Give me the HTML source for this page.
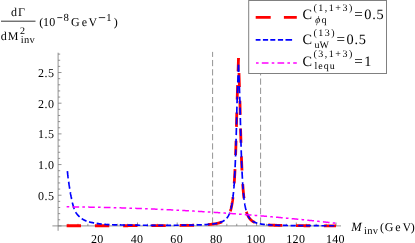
<!DOCTYPE html>
<html><head><meta charset="utf-8"><style>
html,body{margin:0;padding:0;background:#fff;overflow:hidden}
svg{display:block;will-change:transform}
text{font-family:"Liberation Serif",serif;fill:#000;text-rendering:geometricPrecision}
</style></head><body>
<svg width="415" height="243" viewBox="0 0 415 243">
<rect width="415" height="243" fill="#fff"/>
<g stroke="#777" stroke-width="0.8" fill="none">
<path d="M52.4 225.9 H341"/>
<path d="M58.1 52.7 V230.8"/>
<path d="M58.10 225.90 h3.40"/><path d="M58.10 219.77 h2.10"/><path d="M58.10 213.63 h2.10"/><path d="M58.10 207.50 h2.10"/><path d="M58.10 201.36 h2.10"/><path d="M58.10 195.22 h3.40"/><path d="M58.10 189.09 h2.10"/><path d="M58.10 182.95 h2.10"/><path d="M58.10 176.82 h2.10"/><path d="M58.10 170.69 h2.10"/><path d="M58.10 164.55 h3.40"/><path d="M58.10 158.41 h2.10"/><path d="M58.10 152.28 h2.10"/><path d="M58.10 146.14 h2.10"/><path d="M58.10 140.01 h2.10"/><path d="M58.10 133.88 h3.40"/><path d="M58.10 127.74 h2.10"/><path d="M58.10 121.60 h2.10"/><path d="M58.10 115.47 h2.10"/><path d="M58.10 109.33 h2.10"/><path d="M58.10 103.20 h3.40"/><path d="M58.10 97.06 h2.10"/><path d="M58.10 90.93 h2.10"/><path d="M58.10 84.79 h2.10"/><path d="M58.10 78.66 h2.10"/><path d="M58.10 72.53 h3.40"/><path d="M58.10 66.39 h2.10"/><path d="M58.10 60.25 h2.10"/><path d="M58.10 54.12 h2.10"/><path d="M68.03 225.90 v-2.10"/><path d="M77.95 225.90 v-2.10"/><path d="M87.88 225.90 v-2.10"/><path d="M97.80 225.90 v-3.40"/><path d="M107.72 225.90 v-2.10"/><path d="M117.65 225.90 v-2.10"/><path d="M127.58 225.90 v-2.10"/><path d="M137.50 225.90 v-3.40"/><path d="M147.43 225.90 v-2.10"/><path d="M157.35 225.90 v-2.10"/><path d="M167.28 225.90 v-2.10"/><path d="M177.20 225.90 v-3.40"/><path d="M187.12 225.90 v-2.10"/><path d="M197.05 225.90 v-2.10"/><path d="M206.97 225.90 v-2.10"/><path d="M216.90 225.90 v-3.40"/><path d="M226.82 225.90 v-2.10"/><path d="M236.75 225.90 v-2.10"/><path d="M246.68 225.90 v-2.10"/><path d="M256.60 225.90 v-3.40"/><path d="M266.53 225.90 v-2.10"/><path d="M276.45 225.90 v-2.10"/><path d="M286.38 225.90 v-2.10"/><path d="M296.30 225.90 v-3.40"/><path d="M306.23 225.90 v-2.10"/><path d="M316.15 225.90 v-2.10"/><path d="M326.08 225.90 v-2.10"/><path d="M336.00 225.90 v-3.40"/>
</g>
<g stroke="#777" stroke-width="0.8" stroke-dasharray="6.2 3.06" stroke-dashoffset="6.96" fill="none">
<path d="M212.6 225.9 V51.9"/>
<path d="M260.6 225.9 V51.9"/>
</g>
<path d="M66.64 225.77 L66.81 225.77 L66.98 225.77 L67.15 225.77 L67.32 225.77 L67.39 225.77 L67.49 225.77 L67.66 225.77 L67.83 225.77 L68.00 225.77 L68.17 225.77 L68.34 225.77 L68.51 225.77 L68.68 225.77 L68.85 225.77 L69.02 225.77 L69.19 225.77 L69.37 225.77 L69.54 225.77 L69.71 225.77 L69.88 225.77 L70.05 225.77 L70.22 225.77 L70.39 225.77 L70.56 225.77 L70.73 225.77 L70.90 225.77 L71.07 225.77 L71.24 225.77 L71.41 225.77 L71.58 225.77 L71.75 225.77 L71.92 225.77 L72.10 225.77 L72.27 225.77 L72.44 225.77 L72.61 225.77 L72.78 225.77 L72.95 225.77 L73.12 225.77 L73.29 225.77 L73.46 225.77 L73.63 225.77 L73.80 225.77 L73.97 225.77 L74.14 225.77 L74.31 225.77 L74.48 225.77 L74.65 225.77 L74.83 225.77 L75.00 225.77 L75.17 225.77 L75.34 225.77 L75.51 225.77 L75.68 225.77 L75.85 225.77 L76.02 225.77 L76.19 225.77 L76.36 225.77 L76.53 225.77 L76.70 225.77 L76.87 225.77 L77.04 225.77 L77.21 225.77 L77.38 225.77 L77.55 225.77 L77.73 225.77 L77.90 225.77 L78.07 225.77 L78.24 225.77 L78.41 225.77 L78.58 225.77 L78.75 225.77 L78.92 225.77 L79.09 225.77 L79.26 225.77 L79.43 225.77 L79.60 225.77 L79.77 225.77 L79.94 225.77 L80.11 225.77 L80.28 225.77 L80.46 225.77 L80.63 225.77 L80.80 225.77 L80.97 225.77 L81.14 225.77 L81.31 225.77 L81.48 225.77 L81.65 225.77 L81.82 225.77 L81.99 225.77 L82.16 225.77 L82.33 225.77 L82.50 225.77 L82.67 225.77 L82.84 225.77 L83.01 225.77 L83.19 225.77 L83.36 225.77 L83.53 225.77 L83.70 225.77 L83.87 225.77 L84.04 225.77 L84.21 225.77 L84.38 225.77 L84.55 225.77 L84.72 225.77 L84.89 225.77 L85.06 225.77 L85.23 225.77 L85.40 225.77 L85.57 225.77 L85.74 225.77 L85.92 225.77 L86.09 225.77 L86.26 225.77 L86.43 225.77 L86.60 225.77 L86.77 225.77 L86.94 225.77 L87.11 225.77 L87.28 225.77 L87.45 225.77 L87.62 225.77 L87.79 225.77 L87.96 225.77 L88.13 225.77 L88.30 225.77 L88.47 225.77 L88.65 225.77 L88.82 225.77 L88.99 225.77 L89.16 225.77 L89.33 225.77 L89.50 225.77 L89.67 225.77 L89.84 225.77 L90.01 225.77 L90.18 225.77 L90.35 225.77 L90.52 225.77 L90.69 225.77 L90.86 225.77 L91.03 225.77 L91.20 225.77 L91.37 225.77 L91.55 225.76 L91.72 225.76 L91.89 225.76 L92.06 225.76 L92.23 225.76 L92.40 225.76 L92.57 225.76 L92.74 225.76 L92.91 225.76 L93.08 225.76 L93.25 225.76 L93.42 225.76 L93.59 225.76 L93.76 225.76 L93.93 225.76 L94.10 225.76 L94.28 225.76 L94.45 225.76 L94.62 225.76 L94.79 225.76 L94.96 225.76 L95.13 225.76 L95.30 225.76 L95.47 225.76 L95.64 225.76 L95.81 225.76 L95.98 225.76 L96.15 225.76 L96.32 225.76 L96.49 225.76 L96.66 225.76 L96.83 225.76 L97.01 225.76 L97.18 225.76 L97.35 225.76 L97.52 225.76 L97.69 225.76 L97.86 225.76 L98.03 225.76 L98.20 225.76 L98.37 225.76 L98.54 225.76 L98.71 225.76 L98.88 225.76 L99.05 225.76 L99.22 225.76 L99.39 225.76 L99.56 225.76 L99.74 225.76 L99.91 225.76 L100.08 225.76 L100.25 225.76 L100.42 225.76 L100.59 225.76 L100.76 225.76 L100.93 225.76 L101.10 225.76 L101.27 225.76 L101.44 225.76 L101.61 225.76 L101.78 225.76 L101.95 225.76 L102.12 225.76 L102.29 225.76 L102.47 225.76 L102.64 225.76 L102.81 225.76 L102.98 225.76 L103.15 225.76 L103.32 225.76 L103.49 225.76 L103.66 225.76 L103.83 225.76 L104.00 225.76 L104.17 225.76 L104.34 225.76 L104.51 225.76 L104.68 225.76 L104.85 225.76 L105.02 225.76 L105.19 225.75 L105.37 225.75 L105.54 225.75 L105.71 225.75 L105.88 225.75 L106.05 225.75 L106.22 225.75 L106.39 225.75 L106.56 225.75 L106.73 225.75 L106.90 225.75 L107.07 225.75 L107.24 225.75 L107.41 225.75 L107.58 225.75 L107.75 225.75 L107.92 225.75 L108.10 225.75 L108.27 225.75 L108.44 225.75 L108.61 225.75 L108.78 225.75 L108.95 225.75 L109.12 225.75 L109.29 225.75 L109.46 225.75 L109.63 225.75 L109.80 225.75 L109.97 225.75 L110.14 225.75 L110.31 225.75 L110.48 225.75 L110.65 225.75 L110.83 225.75 L111.00 225.75 L111.17 225.75 L111.34 225.75 L111.51 225.75 L111.68 225.75 L111.85 225.75 L112.02 225.75 L112.19 225.75 L112.36 225.75 L112.53 225.75 L112.70 225.75 L112.87 225.75 L113.04 225.75 L113.21 225.75 L113.38 225.75 L113.56 225.75 L113.73 225.75 L113.90 225.75 L114.07 225.75 L114.24 225.75 L114.41 225.75 L114.58 225.75 L114.75 225.75 L114.92 225.74 L115.09 225.74 L115.26 225.74 L115.43 225.74 L115.60 225.74 L115.77 225.74 L115.94 225.74 L116.11 225.74 L116.29 225.74 L116.46 225.74 L116.63 225.74 L116.80 225.74 L116.97 225.74 L117.14 225.74 L117.31 225.74 L117.48 225.74 L117.65 225.74 L117.65 225.74 L118.65 225.74 L119.66 225.74 L120.66 225.74 L121.66 225.74 L122.66 225.73 L123.67 225.73 L124.67 225.73 L125.67 225.73 L126.67 225.73 L127.68 225.73 L128.68 225.72 L129.68 225.72 L130.68 225.72 L131.69 225.72 L132.69 225.72 L133.69 225.71 L134.69 225.71 L135.70 225.71 L136.70 225.71 L137.70 225.71 L138.70 225.70 L139.71 225.70 L140.71 225.70 L141.71 225.70 L142.71 225.69 L143.72 225.69 L144.72 225.69 L145.72 225.68 L146.72 225.68 L147.73 225.68 L148.73 225.67 L149.73 225.67 L150.73 225.67 L151.74 225.66 L152.74 225.66 L153.74 225.66 L154.74 225.65 L155.75 225.65 L156.75 225.64 L157.75 225.64 L158.75 225.63 L159.76 225.63 L160.76 225.62 L161.76 225.62 L162.76 225.61 L163.77 225.61 L164.77 225.60 L165.77 225.60 L166.77 225.59 L167.78 225.58 L168.78 225.58 L169.78 225.57 L170.78 225.56 L171.79 225.55 L172.79 225.55 L173.79 225.54 L174.79 225.53 L175.80 225.52 L176.80 225.51 L177.80 225.50 L178.80 225.49 L179.81 225.48 L180.81 225.46 L181.81 225.45 L182.81 225.44 L183.82 225.42 L184.82 225.41 L185.82 225.39 L186.82 225.38 L187.83 225.36 L188.83 225.34 L189.83 225.32 L190.83 225.30 L191.84 225.28 L192.84 225.26 L193.84 225.23 L194.84 225.21 L195.85 225.18 L196.85 225.15 L197.85 225.12 L198.85 225.08 L199.86 225.04 L200.86 225.00 L201.86 224.96 L202.86 224.91 L203.87 224.86 L204.87 224.80 L205.87 224.74 L206.87 224.68 L207.88 224.60 L208.88 224.52 L209.88 224.44 L210.88 224.34 L211.89 224.23 L212.89 224.11 L213.89 223.97 L214.89 223.82 L215.90 223.65 L216.90 223.45 L216.90 223.45 L216.95 223.44 L217.01 223.43 L217.06 223.42 L217.12 223.40 L217.17 223.39 L217.23 223.38 L217.28 223.37 L217.34 223.36 L217.39 223.34 L217.45 223.33 L217.50 223.32 L217.56 223.31 L217.61 223.29 L217.67 223.28 L217.72 223.27 L217.77 223.26 L217.83 223.24 L217.88 223.23 L217.94 223.22 L217.99 223.20 L218.05 223.19 L218.10 223.18 L218.16 223.16 L218.21 223.15 L218.27 223.14 L218.32 223.12 L218.38 223.11 L218.43 223.09 L218.49 223.08 L218.54 223.06 L218.59 223.05 L218.65 223.04 L218.70 223.02 L218.76 223.01 L218.81 222.99 L218.87 222.98 L218.92 222.96 L218.98 222.95 L219.03 222.93 L219.09 222.92 L219.14 222.90 L219.20 222.88 L219.25 222.87 L219.30 222.85 L219.36 222.84 L219.41 222.82 L219.47 222.80 L219.52 222.79 L219.58 222.77 L219.63 222.75 L219.69 222.74 L219.74 222.72 L219.80 222.70 L219.85 222.68 L219.91 222.67 L219.96 222.65 L220.02 222.63 L220.07 222.61 L220.12 222.60 L220.18 222.58 L220.23 222.56 L220.29 222.54 L220.34 222.52 L220.40 222.50 L220.45 222.48 L220.51 222.46 L220.56 222.44 L220.62 222.42 L220.67 222.40 L220.73 222.38 L220.78 222.36 L220.84 222.34 L220.89 222.32 L220.94 222.30 L221.00 222.28 L221.05 222.26 L221.11 222.24 L221.16 222.22 L221.22 222.20 L221.27 222.17 L221.33 222.15 L221.38 222.13 L221.44 222.11 L221.49 222.09 L221.55 222.06 L221.60 222.04 L221.66 222.02 L221.71 221.99 L221.76 221.97 L221.82 221.94 L221.87 221.92 L221.93 221.90 L221.98 221.87 L222.04 221.85 L222.09 221.82 L222.15 221.80 L222.20 221.77 L222.26 221.74 L222.31 221.72 L222.37 221.69 L222.42 221.67 L222.47 221.64 L222.53 221.61 L222.58 221.58 L222.64 221.56 L222.69 221.53 L222.75 221.50 L222.80 221.47 L222.86 221.44 L222.91 221.41 L222.97 221.38 L223.02 221.35 L223.08 221.33 L223.13 221.29 L223.19 221.26 L223.24 221.23 L223.29 221.20 L223.35 221.17 L223.40 221.14 L223.46 221.11 L223.51 221.07 L223.57 221.04 L223.62 221.01 L223.68 220.97 L223.73 220.94 L223.79 220.91 L223.84 220.87 L223.90 220.84 L223.95 220.80 L224.01 220.77 L224.06 220.73 L224.11 220.69 L224.17 220.66 L224.22 220.62 L224.28 220.58 L224.33 220.54 L224.39 220.50 L224.44 220.46 L224.50 220.43 L224.55 220.39 L224.61 220.35 L224.66 220.30 L224.72 220.26 L224.77 220.22 L224.83 220.18 L224.88 220.14 L224.93 220.09 L224.99 220.05 L225.04 220.01 L225.10 219.96 L225.15 219.92 L225.21 219.87 L225.26 219.82 L225.32 219.78 L225.37 219.73 L225.43 219.68 L225.48 219.63 L225.54 219.58 L225.59 219.53 L225.64 219.48 L225.70 219.43 L225.75 219.38 L225.81 219.33 L225.86 219.28 L225.92 219.22 L225.97 219.17 L226.03 219.12 L226.08 219.06 L226.14 219.00 L226.19 218.95 L226.25 218.89 L226.30 218.83 L226.36 218.77 L226.41 218.71 L226.46 218.65 L226.52 218.59 L226.57 218.53 L226.63 218.47 L226.68 218.40 L226.74 218.34 L226.79 218.27 L226.85 218.21 L226.90 218.14 L226.96 218.07 L227.01 218.00 L227.07 217.93 L227.12 217.86 L227.18 217.79 L227.23 217.72 L227.28 217.65 L227.34 217.57 L227.39 217.50 L227.45 217.42 L227.50 217.34 L227.56 217.26 L227.61 217.18 L227.67 217.10 L227.72 217.02 L227.78 216.94 L227.83 216.85 L227.89 216.77 L227.94 216.68 L228.00 216.59 L228.05 216.50 L228.10 216.41 L228.16 216.32 L228.21 216.23 L228.27 216.13 L228.32 216.04 L228.38 215.94 L228.43 215.84 L228.49 215.74 L228.54 215.64 L228.60 215.53 L228.65 215.43 L228.71 215.32 L228.76 215.21 L228.81 215.10 L228.87 214.99 L228.92 214.88 L228.98 214.76 L229.03 214.65 L229.09 214.53 L229.14 214.41 L229.20 214.28 L229.25 214.16 L229.31 214.03 L229.36 213.90 L229.42 213.77 L229.47 213.64 L229.53 213.51 L229.58 213.37 L229.63 213.23 L229.69 213.09 L229.74 212.94 L229.80 212.80 L229.85 212.65 L229.91 212.50 L229.96 212.34 L230.02 212.18 L230.07 212.02 L230.13 211.86 L230.18 211.70 L230.24 211.53 L230.29 211.36 L230.35 211.18 L230.40 211.01 L230.45 210.83 L230.51 210.64 L230.56 210.46 L230.62 210.27 L230.67 210.07 L230.73 209.87 L230.78 209.67 L230.84 209.47 L230.89 209.26 L230.95 209.05 L231.00 208.83 L231.06 208.61 L231.11 208.38 L231.17 208.16 L231.22 207.92 L231.27 207.68 L231.33 207.44 L231.38 207.19 L231.44 206.94 L231.49 206.68 L231.55 206.42 L231.60 206.15 L231.66 205.88 L231.71 205.60 L231.77 205.32 L231.82 205.03 L231.88 204.73 L231.93 204.43 L231.99 204.12 L232.04 203.80 L232.09 203.48 L232.15 203.15 L232.20 202.82 L232.26 202.48 L232.31 202.13 L232.37 201.77 L232.42 201.40 L232.48 201.03 L232.53 200.65 L232.59 200.26 L232.64 199.86 L232.70 199.45 L232.75 199.04 L232.80 198.61 L232.86 198.17 L232.91 197.73 L232.97 197.27 L233.02 196.80 L233.08 196.33 L233.13 195.84 L233.19 195.34 L233.24 194.83 L233.30 194.30 L233.35 193.77 L233.41 193.22 L233.46 192.66 L233.52 192.08 L233.57 191.49 L233.62 190.89 L233.68 190.27 L233.73 189.63 L233.79 188.98 L233.84 188.32 L233.90 187.63 L233.95 186.93 L234.01 186.22 L234.06 185.48 L234.12 184.73 L234.17 183.95 L234.23 183.16 L234.28 182.35 L234.34 181.51 L234.39 180.66 L234.44 179.78 L234.50 178.88 L234.55 177.96 L234.61 177.01 L234.66 176.04 L234.72 175.04 L234.77 174.02 L234.83 172.97 L234.88 171.89 L234.94 170.78 L234.99 169.65 L235.05 168.49 L235.10 167.29 L235.16 166.07 L235.21 164.81 L235.26 163.52 L235.32 162.20 L235.37 160.84 L235.43 159.45 L235.48 158.02 L235.54 156.56 L235.59 155.06 L235.65 153.52 L235.70 151.95 L235.76 150.33 L235.81 148.68 L235.87 146.99 L235.92 145.26 L235.97 143.49 L236.03 141.68 L236.08 139.83 L236.14 137.94 L236.19 136.01 L236.25 134.05 L236.30 132.04 L236.36 130.00 L236.41 127.91 L236.47 125.80 L236.52 123.64 L236.58 121.46 L236.63 119.24 L236.69 117.00 L236.74 114.72 L236.79 112.43 L236.85 110.11 L236.90 107.77 L236.96 105.43 L237.01 103.07 L237.02 103.47 L237.07 101.89 L237.12 100.22 L237.18 98.55 L237.23 96.88 L237.29 95.20 L237.34 93.53 L237.40 91.86 L237.45 90.19 L237.51 88.52 L237.56 86.85 L237.61 85.18 L237.67 83.51 L237.72 81.84 L237.78 80.17 L237.83 78.49 L237.89 76.82 L237.94 75.15 L238.00 73.48 L238.05 71.81 L238.11 70.14 L238.16 68.47 L238.22 66.80 L238.27 65.13 L238.33 63.46 L238.38 61.78 L238.43 60.11 L238.49 58.44 L238.50 58.11" stroke="#f00" stroke-width="2.8" stroke-dasharray="14.33 13.94" fill="none"/>
<path d="M238.50 58.11 L238.54 59.44 L238.60 61.11 L238.65 62.79 L238.71 64.46 L238.76 66.13 L238.82 67.80 L238.87 69.47 L238.93 71.14 L238.98 72.81 L239.04 74.48 L239.09 76.15 L239.14 77.83 L239.20 79.50 L239.25 81.17 L239.31 82.84 L239.36 84.51 L239.42 86.18 L239.47 87.85 L239.53 89.52 L239.58 91.19 L239.64 92.86 L239.69 94.54 L239.75 96.21 L239.80 97.88 L239.86 99.55 L239.91 101.22 L239.96 102.89 L239.98 103.47 L240.02 105.04 L240.07 107.43 L240.13 109.81 L240.18 112.17 L240.24 114.51 L240.29 116.83 L240.35 119.13 L240.40 121.39 L240.46 123.63 L240.51 125.83 L240.57 127.99 L240.62 130.12 L240.68 132.21 L240.73 134.27 L240.78 136.28 L240.84 138.25 L240.89 140.18 L240.95 142.08 L241.00 143.93 L241.06 145.74 L241.11 147.51 L241.17 149.23 L241.22 150.92 L241.28 152.57 L241.33 154.18 L241.39 155.75 L241.44 157.28 L241.50 158.77 L241.55 160.23 L241.60 161.65 L241.66 163.03 L241.71 164.38 L241.77 165.70 L241.82 166.98 L241.88 168.22 L241.93 169.44 L241.99 170.62 L242.04 171.78 L242.10 172.90 L242.15 174.00 L242.21 175.06 L242.26 176.10 L242.31 177.11 L242.37 178.10 L242.42 179.06 L242.48 180.00 L242.53 180.91 L242.59 181.80 L242.64 182.66 L242.70 183.50 L242.75 184.33 L242.81 185.13 L242.86 185.91 L242.92 186.67 L242.97 187.41 L243.03 188.13 L243.08 188.84 L243.13 189.53 L243.19 190.20 L243.24 190.85 L243.30 191.49 L243.35 192.11 L243.41 192.72 L243.46 193.31 L243.52 193.89 L243.57 194.45 L243.63 195.00 L243.68 195.54 L243.74 196.07 L243.79 196.58 L243.85 197.08 L243.90 197.57 L243.95 198.05 L244.01 198.51 L244.06 198.97 L244.12 199.41 L244.17 199.85 L244.23 200.27 L244.28 200.69 L244.34 201.09 L244.39 201.49 L244.45 201.88 L244.50 202.26 L244.56 202.63 L244.61 202.99 L244.67 203.35 L244.72 203.70 L244.77 204.04 L244.83 204.37 L244.88 204.70 L244.94 205.02 L244.99 205.33 L245.05 205.63 L245.10 205.93 L245.16 206.23 L245.21 206.51 L245.27 206.79 L245.32 207.07 L245.38 207.34 L245.43 207.60 L245.48 207.86 L245.54 208.12 L245.59 208.37 L245.65 208.61 L245.70 208.85 L245.76 209.08 L245.81 209.31 L245.87 209.54 L245.92 209.76 L245.98 209.98 L246.03 210.19 L246.09 210.40 L246.14 210.60 L246.20 210.80 L246.25 211.00 L246.30 211.19 L246.36 211.38 L246.41 211.57 L246.47 211.75 L246.52 211.93 L246.58 212.11 L246.63 212.28 L246.69 212.45 L246.74 212.62 L246.80 212.79 L246.85 212.95 L246.91 213.11 L246.96 213.26 L247.02 213.41 L247.07 213.56 L247.12 213.71 L247.18 213.86 L247.23 214.00 L247.29 214.14 L247.34 214.28 L247.40 214.41 L247.45 214.55 L247.51 214.68 L247.56 214.81 L247.62 214.93 L247.67 215.06 L247.73 215.18 L247.78 215.30 L247.84 215.42 L247.89 215.54 L247.94 215.65 L248.00 215.77 L248.05 215.88 L248.11 215.99 L248.16 216.10 L248.22 216.20 L248.27 216.31 L248.33 216.41 L248.38 216.51 L248.44 216.61 L248.49 216.71 L248.55 216.81 L248.60 216.90 L248.66 217.00 L248.71 217.09 L248.76 217.18 L248.82 217.27 L248.87 217.36 L248.93 217.44 L248.98 217.53 L249.04 217.62 L249.09 217.70 L249.15 217.78 L249.20 217.86 L249.26 217.94 L249.31 218.02 L249.37 218.10 L249.42 218.17 L249.47 218.25 L249.53 218.32 L249.58 218.40 L249.64 218.47 L249.69 218.54 L249.75 218.61 L249.80 218.68 L249.86 218.75 L249.91 218.82 L249.97 218.88 L250.02 218.95 L250.08 219.01 L250.13 219.08 L250.19 219.14 L250.24 219.20 L250.29 219.26 L250.35 219.32 L250.40 219.38 L250.46 219.44 L250.51 219.50 L250.57 219.56 L250.62 219.61 L250.68 219.67 L250.73 219.73 L250.79 219.78 L250.84 219.83 L250.90 219.89 L250.95 219.94 L251.01 219.99 L251.06 220.04 L251.11 220.09 L251.17 220.14 L251.22 220.19 L251.28 220.24 L251.33 220.29 L251.39 220.34 L251.44 220.38 L251.50 220.43 L251.55 220.48 L251.61 220.52 L251.66 220.57 L251.72 220.61 L251.77 220.65 L251.83 220.70 L251.88 220.74 L251.93 220.78 L251.99 220.82 L252.04 220.86 L252.10 220.90 L252.15 220.94 L252.21 220.98 L252.26 221.02 L252.32 221.06 L252.37 221.10 L252.43 221.14 L252.48 221.18 L252.54 221.21 L252.59 221.25 L252.64 221.29 L252.70 221.32 L252.75 221.36 L252.81 221.39 L252.86 221.43 L252.92 221.46 L252.97 221.49 L253.03 221.53 L253.08 221.56 L253.14 221.59 L253.19 221.63 L253.25 221.66 L253.30 221.69 L253.36 221.72 L253.41 221.75 L253.46 221.78 L253.52 221.81 L253.57 221.84 L253.63 221.87 L253.68 221.90 L253.74 221.93 L253.79 221.96 L253.85 221.99 L253.90 222.02 L253.96 222.04 L254.01 222.07 L254.07 222.10 L254.12 222.13 L254.18 222.15 L254.23 222.18 L254.28 222.21 L254.34 222.23 L254.39 222.26 L254.45 222.28 L254.50 222.31 L254.56 222.33 L254.61 222.36 L254.67 222.38 L254.72 222.41 L254.78 222.43 L254.83 222.45 L254.89 222.48 L254.94 222.50 L255.00 222.52 L255.05 222.55 L255.10 222.57 L255.16 222.59 L255.21 222.61 L255.27 222.63 L255.32 222.66 L255.38 222.68 L255.43 222.70 L255.49 222.72 L255.54 222.74 L255.60 222.76 L255.65 222.78 L255.71 222.80 L255.76 222.82 L255.81 222.84 L255.87 222.86 L255.92 222.88 L255.98 222.90 L256.03 222.92 L256.09 222.94 L256.14 222.96 L256.20 222.98 L256.25 223.00 L256.31 223.01 L256.36 223.03 L256.42 223.05 L256.47 223.07 L256.53 223.09 L256.58 223.10 L256.63 223.12 L256.69 223.14 L256.74 223.15 L256.80 223.17 L256.85 223.19 L256.91 223.20 L256.96 223.22 L257.02 223.24 L257.07 223.25 L257.13 223.27 L257.18 223.29 L257.24 223.30 L257.29 223.32 L257.35 223.33 L257.40 223.35 L257.45 223.36 L257.51 223.38 L257.56 223.39 L257.62 223.41 L257.67 223.42 L257.73 223.44 L257.78 223.45 L257.84 223.47 L257.89 223.48 L257.95 223.49 L258.00 223.51 L258.06 223.52 L258.11 223.54 L258.17 223.55 L258.22 223.56 L258.27 223.58 L258.33 223.59 L258.38 223.60 L258.44 223.62 L258.49 223.63 L258.55 223.64 L258.60 223.65 L258.66 223.67 L258.71 223.68 L258.77 223.69 L258.82 223.70 L258.88 223.72 L258.93 223.73 L258.98 223.74 L259.04 223.75 L259.09 223.76 L259.15 223.78 L259.20 223.79 L259.26 223.80 L259.31 223.81 L259.37 223.82 L259.42 223.83 L259.48 223.84 L259.53 223.86 L259.59 223.87 L259.64 223.88 L259.70 223.89 L259.75 223.90 L259.80 223.91 L259.86 223.92 L259.91 223.93 L259.97 223.94 L260.02 223.95 L260.08 223.96 L260.13 223.97 L260.19 223.98 L260.24 223.99 L260.30 224.00 L260.35 224.01 L260.41 224.02 L260.46 224.03 L260.52 224.04 L260.57 224.05 L260.57 224.05 L261.33 224.18 L262.09 224.29 L262.86 224.40 L263.62 224.49 L264.38 224.58 L265.14 224.66 L265.90 224.73 L266.67 224.80 L267.43 224.86 L268.19 224.91 L268.95 224.96 L269.71 225.01 L270.47 225.06 L271.24 225.10 L272.00 225.14 L272.76 225.17 L273.52 225.21 L274.28 225.24 L275.05 225.27 L275.81 225.30 L276.57 225.32 L277.33 225.35 L278.09 225.37 L278.86 225.39 L279.62 225.41 L280.38 225.43 L281.14 225.45 L281.90 225.47 L282.67 225.48 L283.43 225.50 L284.19 225.51 L284.95 225.53 L285.71 225.54 L286.48 225.55 L287.24 225.57 L288.00 225.58 L288.76 225.59 L289.52 225.60 L290.28 225.61 L291.05 225.62 L291.81 225.63 L292.57 225.64 L293.33 225.64 L294.09 225.65 L294.86 225.66 L295.62 225.67 L296.38 225.67 L297.14 225.68 L297.90 225.69 L298.67 225.69 L299.43 225.70 L300.19 225.70 L300.95 225.71 L301.71 225.71 L302.48 225.72 L303.24 225.72 L304.00 225.73 L304.76 225.73 L305.52 225.74 L306.29 225.74 L307.05 225.75 L307.81 225.75 L308.57 225.75 L309.33 225.76 L310.09 225.76 L310.86 225.76 L311.62 225.77 L312.38 225.77 L313.14 225.77 L313.90 225.78 L314.67 225.78 L315.43 225.78 L316.19 225.79 L316.95 225.79 L317.71 225.79 L318.48 225.79 L319.24 225.80 L320.00 225.80 L320.76 225.80 L321.52 225.80 L322.29 225.80 L323.05 225.81 L323.81 225.81 L324.57 225.81 L325.33 225.81 L326.10 225.81 L326.86 225.82 L327.62 225.82 L328.38 225.82 L329.14 225.82 L329.90 225.82 L330.67 225.82 L331.43 225.82 L332.19 225.83 L332.95 225.83 L333.71 225.83 L334.48 225.83 L335.24 225.83 L336.00 225.83" stroke="#f00" stroke-width="2.8" stroke-dasharray="14.11 13.72" stroke-dashoffset="13" fill="none"/>
<path d="M67.39 171.17 L67.41 171.37 L67.43 171.57 L67.45 171.77 L67.47 171.97 L67.49 172.17 L67.51 172.37 L67.53 172.56 L67.55 172.76 L67.58 172.96 L67.60 173.16 L67.62 173.36 L67.64 173.56 L67.66 173.76 L67.68 173.96 L67.70 174.16 L67.73 174.35 L67.75 174.55 L67.77 174.75 L67.79 174.95 L67.81 175.15 L67.84 175.35 L67.86 175.55 L67.88 175.75 L67.91 175.94 L67.93 176.14 L67.95 176.34 L67.98 176.54 L68.00 176.74 L68.02 176.94 L68.05 177.14 L68.07 177.33 L68.10 177.53 L68.12 177.73 L68.14 177.93 L68.17 178.13 L68.19 178.28 M68.65 181.75 L68.68 181.94 L68.71 182.14 L68.73 182.34 L68.76 182.54 L68.79 182.74 L68.82 182.93 L68.85 183.13 L68.88 183.33 L68.91 183.53 L68.94 183.73 L68.97 183.92 L69.00 184.12 L69.03 184.32 L69.06 184.52 L69.09 184.71 L69.12 184.91 L69.16 185.11 L69.19 185.31 L69.22 185.50 L69.25 185.70 L69.28 185.90 L69.32 186.10 L69.35 186.29 L69.38 186.49 L69.41 186.69 L69.43 186.89 L69.46 187.08 L69.49 187.28 L69.52 187.48 L69.55 187.68 L69.58 187.88 L69.61 188.07 L69.63 188.27 L69.66 188.47 L69.69 188.67 L69.71 188.77 M70.27 192.22 L70.31 192.42 L70.34 192.62 L70.38 192.81 L70.41 193.01 L70.45 193.21 L70.48 193.40 L70.52 193.60 L70.56 193.80 L70.59 193.99 L70.63 194.19 L70.67 194.38 L70.71 194.58 L70.75 194.78 L70.78 194.97 L70.82 195.17 L70.86 195.37 L70.90 195.56 L70.94 195.76 L70.98 195.95 L71.02 196.15 L71.07 196.35 L71.11 196.54 L71.15 196.74 L71.19 196.93 L71.23 197.13 L71.27 197.32 L71.30 197.52 L71.34 197.72 L71.38 197.91 L71.41 198.11 L71.45 198.31 L71.49 198.50 L71.53 198.70 L71.56 198.90 L71.60 199.09 L71.61 199.14 M72.34 202.51 L72.39 202.71 L72.43 202.90 L72.48 203.10 L72.53 203.29 L72.58 203.49 L72.63 203.68 L72.68 203.87 L72.73 204.07 L72.78 204.26 L72.83 204.45 L72.88 204.65 L72.94 204.84 L72.99 205.03 L73.04 205.22 L73.10 205.42 L73.15 205.61 L73.21 205.80 L73.27 205.99 L73.32 206.18 L73.38 206.37 L73.44 206.57 L73.50 206.76 L73.57 206.95 L73.63 207.14 L73.69 207.33 L73.76 207.52 L73.82 207.70 L73.89 207.89 L73.96 208.08 L74.02 208.27 L74.09 208.46 L74.16 208.64 L74.23 208.83 L74.30 209.02 L74.34 209.11 M75.67 212.08 L75.76 212.25 L75.85 212.43 L75.95 212.61 L76.05 212.78 L76.17 212.94 L76.28 213.11 L76.39 213.27 L76.51 213.44 L76.63 213.60 L76.74 213.76 L76.87 213.92 L76.99 214.08 L77.11 214.23 L77.24 214.39 L77.36 214.54 L77.49 214.70 L77.62 214.85 L77.75 215.00 L77.88 215.15 L78.02 215.30 L78.15 215.45 L78.29 215.59 L78.43 215.74 L78.57 215.88 L78.71 216.02 L78.86 216.16 L79.00 216.30 L79.15 216.43 L79.29 216.57 L79.44 216.70 L79.56 216.80 M81.72 218.57 L81.88 218.69 L82.05 218.80 L82.21 218.91 L82.38 219.02 L82.55 219.13 L82.72 219.24 L82.89 219.34 L83.06 219.45 L83.23 219.55 L83.41 219.65 L83.58 219.75 L83.76 219.84 L83.93 219.94 L84.11 220.03 L84.29 220.12 L84.47 220.21 L84.65 220.30 L84.83 220.38 L85.01 220.47 L85.19 220.55 L85.37 220.63 L85.56 220.71 L85.74 220.79 L85.92 220.87 L86.11 220.94 L86.30 221.02 L86.48 221.09 L86.53 221.11 M89.01 221.87 L89.21 221.92 L89.40 221.97 L89.59 222.02 L89.79 222.07 L89.98 222.12 L90.18 222.17 L90.37 222.21 L90.57 222.26 L90.76 222.30 L90.96 222.34 L91.15 222.39 L91.35 222.43 L91.54 222.47 L91.74 222.51 L91.93 222.55 L92.13 222.59 L92.33 222.63 L92.52 222.67 L92.72 222.70 L92.92 222.74 L93.11 222.78 L93.31 222.81 L93.51 222.85 L93.70 222.88 L93.90 222.91 L94.10 222.95 M96.66 223.42 L96.85 223.45 L97.05 223.48 L97.25 223.52 L97.44 223.55 L97.64 223.58 L97.84 223.61 L98.04 223.64 L98.23 223.67 L98.43 223.70 L98.63 223.73 L98.83 223.76 L99.03 223.79 L99.22 223.81 L99.42 223.84 L99.62 223.87 L99.82 223.89 L100.02 223.92 L100.22 223.94 L100.42 223.97 L100.61 223.99 L100.81 224.01 L101.01 224.04 L101.21 224.06 L101.41 224.08 L101.61 224.10 L101.76 224.12 M104.29 224.36 L104.49 224.38 L104.69 224.40 L104.89 224.41 L105.09 224.43 L105.29 224.45 L105.49 224.46 L105.69 224.47 L105.89 224.48 L106.09 224.49 L106.29 224.50 L106.49 224.51 L106.69 224.52 L106.89 224.53 L107.09 224.54 L107.29 224.55 L107.49 224.56 L107.69 224.57 L107.89 224.58 L108.09 224.58 L108.29 224.59 L108.49 224.60 L108.69 224.61 L108.89 224.62 L109.09 224.63 L109.29 224.63 L109.44 224.64 M111.98 224.73 L112.18 224.74 L112.38 224.75 L112.58 224.75 L112.78 224.76 L112.98 224.77 L113.18 224.77 L113.38 224.78 L113.58 224.79 L113.78 224.79 L113.98 224.80 L114.18 224.80 L114.38 224.81 L114.58 224.82 L114.78 224.82 L114.98 224.83 L115.18 224.83 L115.38 224.84 L115.58 224.84 L115.78 224.85 L115.98 224.86 L116.18 224.86 L116.38 224.87 L116.58 224.87 L116.78 224.88 L116.98 224.88 L117.13 224.89 M119.73 224.95 L119.93 224.95 L120.13 224.96 L120.33 224.96 L120.53 224.97 L120.73 224.97 L120.93 224.98 L121.13 224.98 L121.33 224.98 L121.53 224.99 L121.73 224.99 L121.93 225.00 L122.13 225.00 L122.33 225.00 L122.53 225.01 L122.73 225.01 L122.93 225.02 L123.13 225.02 L123.33 225.02 L123.53 225.03 L123.73 225.03 L123.93 225.04 L124.13 225.04 L124.33 225.04 L124.53 225.05 L124.73 225.05 L124.88 225.05 M127.43 225.09 L127.63 225.10 L127.83 225.10 L128.03 225.10 L128.23 225.11 L128.43 225.11 L128.63 225.11 L128.83 225.11 L129.03 225.12 L129.23 225.12 L129.43 225.12 L129.63 225.13 L129.83 225.13 L130.03 225.13 L130.23 225.13 L130.43 225.14 L130.63 225.14 L130.83 225.14 L131.03 225.14 L131.23 225.15 L131.43 225.15 L131.63 225.15 L131.83 225.15 L132.03 225.16 L132.23 225.16 L132.43 225.16 L132.58 225.16 M135.13 225.19 L135.33 225.19 L135.53 225.20 L135.73 225.20 L135.93 225.20 L136.13 225.20 L136.33 225.20 L136.53 225.21 L136.73 225.21 L136.93 225.21 L137.13 225.21 L137.33 225.21 L137.53 225.22 L137.73 225.22 L137.93 225.22 L138.13 225.22 L138.33 225.22 L138.53 225.22 L138.73 225.23 L138.93 225.23 L139.13 225.23 L139.33 225.23 L139.53 225.23 L139.73 225.23 L139.93 225.23 L140.13 225.24 L140.28 225.24 M142.83 225.25 L143.03 225.25 L143.23 225.26 L143.43 225.26 L143.63 225.26 L143.83 225.26 L144.03 225.26 L144.23 225.26 L144.43 225.26 L144.63 225.26 L144.83 225.27 L145.03 225.27 L145.23 225.27 L145.43 225.27 L145.63 225.27 L145.83 225.27 L146.03 225.27 L146.23 225.27 L146.43 225.27 L146.63 225.27 L146.83 225.28 L147.03 225.28 L147.23 225.28 L147.43 225.28 L147.63 225.28 L147.83 225.28 L147.98 225.28 M150.53 225.29 L150.73 225.29 L150.93 225.29 L151.13 225.29 L151.33 225.29 L151.53 225.29 L151.73 225.29 L151.93 225.29 L152.13 225.30 L152.33 225.30 L152.53 225.30 L152.73 225.30 L152.93 225.30 L153.13 225.30 L153.33 225.30 L153.53 225.30 L153.73 225.30 L153.93 225.30 L154.13 225.30 L154.33 225.30 L154.53 225.30 L154.73 225.30 L154.93 225.30 L155.13 225.30 L155.33 225.30 L155.53 225.30 L155.68 225.30 M158.23 225.31 L158.43 225.31 L158.63 225.31 L158.83 225.31 L159.03 225.31 L159.23 225.31 L159.43 225.31 L159.63 225.31 L159.83 225.31 L160.03 225.31 L160.23 225.31 L160.43 225.31 L160.63 225.31 L160.83 225.31 L161.03 225.31 L161.23 225.31 L161.43 225.31 L161.63 225.31 L161.83 225.31 L162.03 225.31 L162.23 225.31 L162.43 225.31 L162.63 225.31 L162.83 225.31 L163.03 225.31 L163.23 225.31 L163.38 225.31 M165.93 225.30 L166.13 225.30 L166.33 225.30 L166.53 225.30 L166.73 225.30 L166.93 225.30 L167.13 225.30 L167.33 225.30 L167.53 225.30 L167.73 225.30 L167.93 225.30 L168.13 225.30 L168.33 225.30 L168.53 225.30 L168.73 225.30 L168.93 225.30 L169.13 225.30 L169.33 225.30 L169.53 225.30 L169.73 225.30 L169.93 225.29 L170.13 225.29 L170.33 225.29 L170.53 225.29 L170.73 225.29 L170.93 225.29 L171.08 225.29 M173.63 225.28 L173.83 225.28 L174.03 225.28 L174.23 225.28 L174.43 225.28 L174.63 225.27 L174.83 225.27 L175.03 225.27 L175.23 225.27 L175.43 225.27 L175.63 225.27 L175.83 225.27 L176.03 225.27 L176.23 225.27 L176.43 225.26 L176.63 225.26 L176.83 225.26 L177.03 225.26 L177.23 225.26 L177.43 225.26 L177.63 225.26 L177.83 225.26 L178.03 225.25 L178.23 225.25 L178.43 225.25 L178.63 225.25 L178.78 225.25 M181.33 225.23 L181.53 225.22 L181.73 225.22 L181.93 225.22 L182.13 225.22 L182.33 225.22 L182.53 225.21 L182.73 225.21 L182.93 225.21 L183.13 225.21 L183.33 225.21 L183.53 225.20 L183.73 225.20 L183.93 225.20 L184.13 225.20 L184.33 225.19 L184.53 225.19 L184.73 225.19 L184.93 225.19 L185.13 225.18 L185.33 225.18 L185.53 225.18 L185.73 225.18 L185.93 225.17 L186.13 225.17 L186.33 225.17 L186.48 225.17 M189.03 225.13 L189.23 225.13 L189.43 225.12 L189.63 225.12 L189.83 225.12 L190.03 225.11 L190.23 225.11 L190.43 225.10 L190.63 225.10 L190.83 225.10 L191.03 225.09 L191.23 225.09 L191.43 225.09 L191.63 225.08 L191.83 225.08 L192.03 225.07 L192.23 225.07 L192.43 225.07 L192.63 225.06 L192.83 225.06 L193.03 225.05 L193.23 225.05 L193.43 225.04 L193.63 225.04 L193.83 225.04 L194.03 225.03 L194.18 225.03 M196.73 224.96 L196.93 224.95 L197.13 224.95 L197.33 224.94 L197.53 224.94 L197.73 224.93 L197.93 224.92 L198.13 224.92 L198.33 224.91 L198.53 224.90 L198.73 224.90 L198.93 224.89 L199.13 224.88 L199.33 224.88 L199.53 224.87 L199.73 224.86 L199.92 224.86 L200.12 224.85 L200.32 224.84 L200.52 224.83 L200.72 224.83 L200.92 224.82 L201.12 224.81 L201.32 224.80 L201.52 224.79 L201.72 224.78 L201.87 224.78 M204.42 224.65 L204.62 224.64 L204.82 224.63 L205.02 224.62 L205.22 224.61 L205.42 224.60 L205.62 224.59 L205.82 224.57 L206.02 224.56 L206.22 224.55 L206.42 224.54 L206.62 224.52 L206.82 224.51 L207.02 224.50 L207.22 224.48 L207.41 224.47 L207.61 224.45 L207.81 224.44 L208.01 224.43 L208.21 224.41 L208.41 224.39 L208.61 224.38 L208.81 224.36 L209.01 224.35 L209.21 224.33 L209.41 224.31 L209.56 224.30 M212.09 224.04 L212.29 224.02 L212.49 224.00 L212.69 223.97 L212.89 223.95 L213.09 223.92 L213.29 223.90 L213.48 223.87 L213.68 223.84 L213.88 223.82 L214.08 223.79 L214.28 223.76 L214.47 223.73 L214.67 223.70 L214.87 223.67 L215.07 223.63 L215.26 223.60 L215.46 223.57 L215.66 223.53 L215.86 223.50 L216.05 223.46 L216.25 223.42 L216.44 223.39 L216.64 223.35 L216.84 223.31 L217.03 223.27 L217.23 223.23 M219.70 222.58 L219.89 222.52 L220.08 222.46 L220.27 222.40 L220.46 222.33 L220.64 222.27 L220.83 222.20 L221.02 222.13 L221.20 222.06 L221.39 221.98 L221.58 221.90 L221.76 221.83 L221.94 221.74 L222.12 221.66 L222.30 221.58 L222.48 221.49 L222.66 221.40 L222.84 221.31 L223.02 221.21 L223.19 221.12 L223.37 221.02 L223.54 220.92 L223.71 220.81 L223.88 220.70 L224.05 220.60 L224.21 220.48 L224.38 220.37 L224.54 220.25 L224.58 220.22 M226.66 218.29 L226.79 218.14 L226.92 217.98 L227.04 217.82 L227.17 217.67 L227.29 217.51 L227.40 217.34 L227.52 217.18 L227.63 217.02 L227.74 216.85 L227.85 216.68 L227.96 216.51 L228.06 216.34 L228.17 216.17 L228.27 216.00 L228.37 215.82 L228.46 215.65 L228.56 215.47 L228.65 215.30 L228.74 215.12 L228.83 214.94 L228.92 214.76 L229.00 214.58 L229.09 214.40 L229.17 214.21 L229.25 214.03 L229.33 213.85 L229.41 213.66 L229.48 213.48 L229.56 213.29 L229.63 213.11 L229.70 212.92 L229.77 212.73 L229.81 212.64 M230.82 209.40 L230.87 209.20 L230.92 209.01 L230.97 208.81 L231.02 208.62 L231.07 208.43 L231.12 208.23 L231.16 208.04 L231.21 207.84 L231.25 207.65 L231.30 207.45 L231.34 207.26 L231.38 207.06 L231.43 206.87 L231.47 206.67 L231.51 206.48 L231.55 206.28 L231.59 206.08 L231.63 205.89 L231.67 205.69 L231.71 205.50 L231.74 205.30 L231.78 205.10 L231.82 204.91 L231.86 204.71 L231.89 204.51 L231.93 204.32 L231.96 204.12 L232.00 203.92 L232.03 203.72 L232.06 203.53 L232.10 203.33 L232.13 203.13 L232.16 202.94 L232.20 202.74 L232.23 202.54 M232.73 199.08 L232.75 198.88 L232.78 198.68 L232.80 198.48 L232.83 198.28 L232.85 198.08 L232.88 197.89 L232.90 197.69 L232.93 197.49 L232.95 197.29 L232.97 197.09 L233.00 196.89 L233.02 196.69 L233.04 196.50 L233.07 196.30 L233.09 196.10 L233.11 195.90 L233.13 195.70 L233.16 195.50 L233.18 195.30 L233.20 195.10 L233.22 194.91 L233.24 194.71 L233.26 194.51 L233.28 194.31 L233.30 194.11 L233.32 193.91 L233.34 193.71 L233.36 193.51 L233.38 193.31 L233.40 193.12 L233.42 192.92 L233.44 192.72 L233.46 192.52 L233.48 192.32 L233.50 192.12 L233.51 191.97 M233.82 188.48 L233.84 188.28 L233.85 188.09 L233.87 187.89 L233.88 187.69 L233.90 187.49 L233.91 187.29 L233.93 187.09 L233.95 186.89 L233.96 186.69 L233.98 186.49 L233.99 186.29 L234.01 186.09 L234.02 185.89 L234.04 185.69 L234.05 185.49 L234.07 185.29 L234.08 185.09 L234.10 184.89 L234.11 184.70 L234.12 184.50 L234.14 184.30 L234.15 184.10 L234.17 183.90 L234.18 183.70 L234.19 183.50 L234.21 183.30 L234.22 183.10 L234.23 182.90 L234.25 182.70 L234.26 182.50 L234.28 182.30 L234.29 182.10 L234.30 181.90 L234.31 181.70 L234.33 181.50 L234.34 181.35 M234.55 177.86 L234.56 177.66 L234.58 177.46 L234.59 177.26 L234.60 177.06 L234.61 176.86 L234.62 176.66 L234.63 176.46 L234.64 176.26 L234.65 176.06 L234.67 175.86 L234.68 175.66 L234.69 175.46 L234.70 175.26 L234.71 175.06 L234.72 174.86 L234.73 174.66 L234.74 174.46 L234.75 174.27 L234.76 174.07 L234.77 173.87 L234.78 173.67 L234.79 173.47 L234.80 173.27 L234.82 173.07 L234.83 172.87 L234.84 172.67 L234.85 172.47 L234.86 172.27 L234.87 172.07 L234.88 171.87 L234.89 171.67 L234.90 171.47 L234.91 171.27 L234.92 171.07 L234.93 170.87 L234.94 170.67 M235.10 167.17 L235.11 166.97 L235.12 166.77 L235.13 166.57 L235.14 166.37 L235.14 166.17 L235.15 165.97 L235.16 165.77 L235.17 165.58 L235.18 165.38 L235.19 165.18 L235.20 164.98 L235.21 164.78 L235.21 164.58 L235.22 164.38 L235.23 164.18 L235.24 163.98 L235.25 163.78 L235.26 163.58 L235.26 163.38 L235.27 163.18 L235.28 162.98 L235.29 162.78 L235.30 162.58 L235.31 162.38 L235.31 162.18 L235.32 161.98 L235.33 161.78 L235.34 161.58 L235.35 161.38 L235.35 161.18 L235.36 160.98 L235.37 160.78 L235.38 160.58 L235.39 160.38 L235.39 160.18 L235.40 160.03 M235.54 156.48 L235.54 156.28 L235.55 156.08 L235.56 155.88 L235.56 155.68 L235.57 155.48 L235.58 155.28 L235.59 155.08 L235.59 154.88 L235.60 154.68 L235.61 154.48 L235.62 154.28 L235.62 154.08 L235.63 153.88 L235.64 153.68 L235.64 153.48 L235.65 153.28 L235.66 153.08 L235.66 152.88 L235.67 152.68 L235.68 152.48 L235.69 152.29 L235.69 152.09 L235.70 151.89 L235.71 151.69 L235.71 151.49 L235.72 151.29 L235.73 151.09 L235.73 150.89 L235.74 150.69 L235.75 150.49 L235.75 150.29 L235.76 150.09 L235.77 149.89 L235.77 149.69 L235.78 149.49 L235.79 149.34 M235.90 145.79 L235.91 145.59 L235.91 145.39 L235.92 145.19 L235.92 144.99 L235.93 144.79 L235.94 144.59 L235.94 144.39 L235.95 144.19 L235.96 143.99 L235.96 143.79 L235.97 143.59 L235.97 143.39 L235.98 143.19 L235.99 142.99 L235.99 142.79 L236.00 142.59 L236.00 142.39 L236.01 142.19 L236.02 141.99 L236.02 141.79 L236.03 141.59 L236.03 141.39 L236.04 141.19 L236.05 140.99 L236.05 140.79 L236.06 140.59 L236.06 140.39 L236.07 140.19 L236.08 139.99 L236.08 139.79 L236.09 139.59 L236.09 139.39 L236.10 139.19 L236.10 138.99 L236.11 138.79 L236.11 138.64 M236.21 135.14 L236.22 134.94 L236.23 134.74 L236.23 134.54 L236.24 134.34 L236.24 134.14 L236.25 133.94 L236.25 133.74 L236.26 133.54 L236.26 133.34 L236.27 133.14 L236.27 132.94 L236.28 132.74 L236.29 132.54 L236.29 132.34 L236.30 132.14 L236.30 131.94 L236.31 131.74 L236.31 131.54 L236.32 131.34 L236.32 131.14 L236.33 130.94 L236.33 130.74 L236.34 130.55 L236.34 130.35 L236.35 130.15 L236.36 129.95 L236.36 129.75 L236.37 129.55 L236.37 129.35 L236.38 129.15 L236.38 128.95 L236.39 128.75 L236.39 128.55 L236.40 128.35 L236.40 128.15 L236.41 127.95 M236.50 124.45 L236.50 124.25 L236.51 124.05 L236.51 123.85 L236.52 123.65 L236.52 123.45 L236.53 123.25 L236.53 123.05 L236.54 122.85 L236.54 122.65 L236.55 122.45 L236.55 122.25 L236.56 122.05 L236.56 121.85 L236.57 121.65 L236.57 121.45 L236.58 121.25 L236.58 121.05 L236.59 120.85 L236.59 120.65 L236.60 120.45 L236.60 120.25 L236.61 120.05 L236.61 119.85 L236.62 119.65 L236.62 119.45 L236.63 119.25 L236.63 119.05 L236.64 118.85 L236.64 118.65 L236.65 118.45 L236.65 118.25 L236.66 118.05 L236.66 117.85 L236.67 117.65 L236.67 117.45 L236.68 117.25 M236.76 113.75 L236.76 113.55 L236.77 113.35 L236.77 113.15 L236.78 112.95 L236.78 112.75 L236.79 112.55 L236.79 112.35 L236.80 112.15 L236.80 111.95 L236.81 111.75 L236.81 111.55 L236.82 111.35 L236.82 111.15 L236.83 110.95 L236.83 110.75 L236.84 110.55 L236.84 110.35 L236.85 110.15 L236.85 109.95 L236.85 109.75 L236.86 109.55 L236.86 109.35 L236.87 109.15 L236.87 108.95 L236.88 108.75 L236.88 108.55 L236.89 108.35 L236.89 108.15 L236.90 107.95 L236.90 107.75 L236.91 107.55 L236.91 107.35 L236.92 107.15 L236.92 106.95 L236.92 106.75 L236.93 106.60 M237.01 103.05 L237.01 103.03 L237.02 103.23 L237.02 103.25 L237.03 103.05 L237.03 102.85 L237.04 102.65 L237.05 102.45 L237.06 102.25 L237.06 102.05 L237.07 101.85 L237.08 101.65 L237.09 101.45 L237.09 101.25 L237.10 101.05 L237.11 100.85 L237.12 100.65 L237.12 100.45 L237.13 100.25 L237.14 100.05 L237.14 99.85 L237.15 99.65 L237.16 99.45 L237.17 99.25 L237.17 99.05 L237.18 98.85 L237.19 98.65 L237.20 98.45 L237.20 98.25 L237.21 98.05 L237.22 97.85 L237.22 97.65 L237.23 97.45 L237.24 97.25 L237.25 97.05 L237.25 96.85 L237.26 96.65 M237.39 93.16 L237.40 92.96 L237.40 92.76 L237.41 92.56 L237.42 92.36 L237.43 92.16 L237.43 91.96 L237.44 91.76 L237.45 91.56 L237.46 91.36 L237.46 91.16 L237.47 90.96 L237.48 90.76 L237.49 90.56 L237.49 90.36 L237.50 90.16 L237.51 89.96 L237.51 89.76 L237.52 89.56 L237.53 89.36 L237.54 89.16 L237.54 88.96 L237.55 88.76 L237.56 88.56 L237.57 88.36 L237.57 88.16 L237.58 87.96 L237.59 87.76 L237.60 87.56 L237.60 87.36 L237.61 87.16 L237.62 86.96 L237.62 86.76 L237.63 86.56 L237.64 86.36 L237.65 86.16 L237.65 85.96 M237.78 82.46 L237.79 82.26 L237.80 82.06 L237.80 81.86 L237.81 81.66 L237.82 81.46 L237.83 81.26 L237.83 81.06 L237.84 80.86 L237.85 80.66 L237.86 80.46 L237.86 80.26 L237.87 80.07 L237.88 79.87 L237.88 79.67 L237.89 79.47 L237.90 79.27 L237.91 79.07 L237.91 78.87 L237.92 78.67 L237.93 78.47 L237.94 78.27 L237.94 78.07 L237.95 77.87 L237.96 77.67 L237.97 77.47 L237.97 77.27 L237.98 77.07 L237.99 76.87 L237.99 76.67 L238.00 76.47 L238.01 76.27 L238.02 76.07 L238.02 75.87 L238.03 75.67 L238.04 75.47 L238.05 75.27 M238.17 71.77 L238.18 71.57 L238.19 71.37 L238.20 71.17 L238.20 70.97 L238.21 70.77 L238.22 70.57 L238.23 70.37 L238.23 70.17 L238.24 69.97 L238.25 69.77 L238.25 69.57 L238.26 69.37 L238.27 69.17 L238.28 68.97 L238.28 68.77 L238.29 68.57 L238.30 68.37 L238.31 68.17 L238.31 67.97 L238.32 67.77 L238.33 67.57 L238.34 67.37 L238.34 67.17 L238.35 66.97 L238.36 66.77 L238.36 66.57 L238.37 66.37 L238.38 66.17 L238.39 65.97 L238.39 65.77 L238.40 65.57 L238.41 65.37 L238.42 65.18 L238.42 64.98 L238.43 64.78 L238.44 64.63 M238.57 64.70 L238.57 64.90 L238.58 65.10 L238.59 65.30 L238.60 65.50 L238.60 65.70 L238.61 65.90 L238.62 66.10 L238.63 66.30 L238.63 66.50 L238.64 66.70 L238.65 66.90 L238.65 67.10 L238.66 67.30 L238.67 67.50 L238.68 67.70 L238.68 67.90 L238.69 68.10 L238.70 68.30 L238.71 68.50 L238.71 68.70 L238.72 68.90 L238.73 69.10 L238.74 69.30 L238.74 69.50 L238.75 69.70 L238.76 69.90 L238.76 70.10 L238.77 70.30 L238.78 70.50 L238.79 70.70 L238.79 70.90 L238.80 71.10 L238.81 71.30 L238.82 71.50 L238.82 71.70 L238.83 71.90 M238.96 75.40 L238.97 75.60 L238.97 75.80 L238.98 76.00 L238.99 76.20 L239.00 76.40 L239.00 76.60 L239.01 76.80 L239.02 77.00 L239.02 77.20 L239.03 77.40 L239.04 77.60 L239.05 77.80 L239.05 78.00 L239.06 78.20 L239.07 78.40 L239.08 78.60 L239.08 78.80 L239.09 79.00 L239.10 79.20 L239.11 79.39 L239.11 79.59 L239.12 79.79 L239.13 79.99 L239.13 80.19 L239.14 80.39 L239.15 80.59 L239.16 80.79 L239.16 80.99 L239.17 81.19 L239.18 81.39 L239.19 81.59 L239.19 81.79 L239.20 81.99 L239.21 82.19 L239.22 82.39 L239.22 82.54 M239.35 86.09 L239.36 86.29 L239.37 86.49 L239.37 86.69 L239.38 86.89 L239.39 87.09 L239.39 87.29 L239.40 87.49 L239.41 87.69 L239.42 87.89 L239.42 88.09 L239.43 88.29 L239.44 88.49 L239.45 88.69 L239.45 88.89 L239.46 89.09 L239.47 89.29 L239.48 89.49 L239.48 89.69 L239.49 89.89 L239.50 90.09 L239.50 90.29 L239.51 90.49 L239.52 90.69 L239.53 90.89 L239.53 91.09 L239.54 91.29 L239.55 91.49 L239.56 91.69 L239.56 91.89 L239.57 92.09 L239.58 92.29 L239.59 92.49 L239.59 92.69 L239.60 92.89 L239.61 93.09 L239.61 93.24 M239.74 96.78 L239.75 96.98 L239.76 97.18 L239.76 97.38 L239.77 97.58 L239.78 97.78 L239.79 97.98 L239.79 98.18 L239.80 98.38 L239.81 98.58 L239.82 98.78 L239.82 98.98 L239.83 99.18 L239.84 99.38 L239.85 99.58 L239.85 99.78 L239.86 99.98 L239.87 100.18 L239.87 100.38 L239.88 100.58 L239.89 100.78 L239.90 100.98 L239.90 101.18 L239.91 101.38 L239.92 101.58 L239.93 101.78 L239.93 101.98 L239.94 102.18 L239.95 102.38 L239.96 102.58 L239.96 102.78 L239.97 102.98 L239.98 103.18 L239.98 103.38 L239.99 103.58 L239.99 103.78 L240.00 103.93 M240.08 107.43 L240.08 107.63 L240.09 107.83 L240.09 108.03 L240.10 108.23 L240.10 108.43 L240.10 108.63 L240.11 108.83 L240.11 109.03 L240.12 109.23 L240.12 109.43 L240.13 109.63 L240.13 109.83 L240.14 110.03 L240.14 110.23 L240.15 110.43 L240.15 110.63 L240.16 110.83 L240.16 111.03 L240.16 111.23 L240.17 111.43 L240.17 111.63 L240.18 111.83 L240.18 112.03 L240.19 112.23 L240.19 112.43 L240.20 112.63 L240.20 112.83 L240.21 113.03 L240.21 113.23 L240.22 113.43 L240.22 113.63 L240.22 113.83 L240.23 114.03 L240.23 114.23 L240.24 114.43 L240.24 114.63 M240.33 118.12 L240.33 118.32 L240.34 118.52 L240.34 118.72 L240.35 118.92 L240.35 119.12 L240.36 119.32 L240.36 119.52 L240.36 119.72 L240.37 119.92 L240.37 120.12 L240.38 120.32 L240.38 120.52 L240.39 120.72 L240.39 120.92 L240.40 121.12 L240.40 121.32 L240.41 121.52 L240.41 121.72 L240.42 121.92 L240.42 122.12 L240.43 122.32 L240.43 122.52 L240.44 122.72 L240.44 122.92 L240.45 123.12 L240.45 123.32 L240.46 123.52 L240.46 123.72 L240.47 123.92 L240.47 124.12 L240.48 124.32 L240.48 124.52 L240.49 124.72 L240.49 124.92 L240.50 125.12 L240.50 125.32 M240.59 128.82 L240.60 129.02 L240.60 129.22 L240.61 129.42 L240.61 129.62 L240.62 129.82 L240.62 130.02 L240.63 130.22 L240.63 130.42 L240.64 130.62 L240.64 130.82 L240.65 131.02 L240.65 131.22 L240.66 131.42 L240.66 131.62 L240.67 131.82 L240.67 132.02 L240.68 132.22 L240.68 132.42 L240.69 132.62 L240.69 132.82 L240.70 133.02 L240.71 133.22 L240.71 133.42 L240.72 133.62 L240.72 133.82 L240.73 134.02 L240.73 134.22 L240.74 134.42 L240.74 134.62 L240.75 134.82 L240.75 135.02 L240.76 135.22 L240.76 135.42 L240.77 135.62 L240.78 135.82 L240.78 135.97 M240.88 139.52 L240.88 139.72 L240.89 139.92 L240.90 140.12 L240.90 140.32 L240.91 140.52 L240.91 140.72 L240.92 140.92 L240.92 141.12 L240.93 141.32 L240.94 141.52 L240.94 141.72 L240.95 141.92 L240.95 142.12 L240.96 142.32 L240.97 142.52 L240.97 142.72 L240.98 142.92 L240.98 143.12 L240.99 143.32 L240.99 143.52 L241.00 143.72 L241.01 143.92 L241.01 144.12 L241.02 144.32 L241.02 144.52 L241.03 144.72 L241.04 144.92 L241.04 145.12 L241.05 145.32 L241.05 145.52 L241.06 145.72 L241.07 145.91 L241.07 146.11 L241.08 146.31 L241.09 146.51 L241.09 146.66 M241.20 150.21 L241.21 150.41 L241.22 150.61 L241.22 150.81 L241.23 151.01 L241.24 151.21 L241.24 151.41 L241.25 151.61 L241.26 151.81 L241.26 152.01 L241.27 152.21 L241.28 152.41 L241.28 152.61 L241.29 152.81 L241.30 153.01 L241.30 153.21 L241.31 153.41 L241.32 153.61 L241.32 153.81 L241.33 154.01 L241.34 154.21 L241.34 154.41 L241.35 154.61 L241.36 154.81 L241.36 155.01 L241.37 155.21 L241.38 155.41 L241.39 155.61 L241.39 155.81 L241.40 156.01 L241.41 156.21 L241.41 156.41 L241.42 156.61 L241.43 156.81 L241.44 157.01 L241.44 157.21 L241.45 157.36 M241.58 160.86 L241.59 161.06 L241.59 161.26 L241.60 161.46 L241.61 161.66 L241.62 161.86 L241.63 162.06 L241.63 162.26 L241.64 162.45 L241.65 162.65 L241.66 162.85 L241.66 163.05 L241.67 163.25 L241.68 163.45 L241.69 163.65 L241.70 163.85 L241.71 164.05 L241.71 164.25 L241.72 164.45 L241.73 164.65 L241.74 164.85 L241.75 165.05 L241.75 165.25 L241.76 165.45 L241.77 165.65 L241.78 165.85 L241.79 166.05 L241.80 166.25 L241.81 166.45 L241.81 166.65 L241.82 166.85 L241.83 167.05 L241.84 167.25 L241.85 167.45 L241.86 167.65 L241.87 167.85 L241.88 168.05 M242.04 171.55 L242.05 171.75 L242.06 171.95 L242.07 172.15 L242.08 172.35 L242.08 172.55 L242.09 172.74 L242.10 172.94 L242.11 173.14 L242.12 173.34 L242.13 173.54 L242.14 173.74 L242.15 173.94 L242.16 174.14 L242.17 174.34 L242.19 174.54 L242.20 174.74 L242.21 174.94 L242.22 175.14 L242.23 175.34 L242.24 175.54 L242.25 175.74 L242.26 175.94 L242.27 176.14 L242.28 176.34 L242.29 176.54 L242.30 176.74 L242.31 176.94 L242.32 177.14 L242.33 177.34 L242.35 177.54 L242.36 177.74 L242.37 177.94 L242.38 178.14 L242.39 178.34 L242.40 178.54 L242.41 178.69 M242.62 182.23 L242.64 182.43 L242.65 182.63 L242.66 182.83 L242.67 183.03 L242.69 183.23 L242.70 183.43 L242.71 183.63 L242.73 183.83 L242.74 184.03 L242.75 184.23 L242.77 184.43 L242.78 184.62 L242.79 184.82 L242.81 185.02 L242.82 185.22 L242.84 185.42 L242.85 185.62 L242.86 185.82 L242.88 186.02 L242.89 186.22 L242.91 186.42 L242.92 186.62 L242.94 186.82 L242.95 187.02 L242.97 187.22 L242.98 187.42 L243.00 187.62 L243.01 187.82 L243.03 188.02 L243.04 188.22 L243.06 188.41 L243.07 188.61 L243.09 188.81 L243.10 189.01 L243.12 189.21 L243.13 189.36 M243.43 192.85 L243.45 193.05 L243.47 193.25 L243.49 193.45 L243.51 193.65 L243.52 193.84 L243.54 194.04 L243.56 194.24 L243.58 194.44 L243.60 194.64 L243.62 194.84 L243.64 195.04 L243.66 195.24 L243.68 195.44 L243.70 195.64 L243.72 195.83 L243.75 196.03 L243.77 196.23 L243.79 196.43 L243.81 196.63 L243.83 196.83 L243.85 197.03 L243.87 197.23 L243.90 197.43 L243.92 197.62 L243.94 197.82 L243.97 198.02 L243.99 198.22 L244.01 198.42 L244.04 198.62 L244.06 198.82 L244.08 199.01 L244.11 199.21 L244.13 199.41 L244.16 199.61 L244.18 199.81 L244.20 199.96 M244.69 203.37 L244.72 203.57 L244.75 203.77 L244.78 203.97 L244.81 204.16 L244.85 204.36 L244.88 204.56 L244.91 204.75 L244.95 204.95 L244.98 205.15 L245.02 205.35 L245.05 205.54 L245.09 205.74 L245.12 205.94 L245.16 206.13 L245.20 206.33 L245.24 206.52 L245.28 206.72 L245.31 206.92 L245.35 207.11 L245.39 207.31 L245.43 207.51 L245.48 207.70 L245.52 207.90 L245.56 208.09 L245.60 208.29 L245.65 208.48 L245.69 208.68 L245.74 208.87 L245.78 209.07 L245.83 209.26 L245.88 209.46 L245.92 209.65 L245.97 209.84 L246.02 210.04 L246.07 210.23 L246.09 210.28 M247.10 213.52 L247.17 213.71 L247.24 213.90 L247.31 214.08 L247.39 214.27 L247.46 214.46 L247.54 214.64 L247.62 214.82 L247.70 215.01 L247.78 215.19 L247.86 215.37 L247.95 215.55 L248.04 215.73 L248.13 215.91 L248.22 216.09 L248.31 216.27 L248.41 216.44 L248.50 216.62 L248.60 216.79 L248.70 216.96 L248.81 217.13 L248.91 217.30 L249.02 217.47 L249.13 217.64 L249.24 217.81 L249.35 217.97 L249.47 218.13 L249.59 218.29 L249.71 218.45 L249.84 218.61 L249.96 218.76 L250.09 218.92 L250.22 219.07 L250.25 219.11 M252.42 221.02 L252.59 221.14 L252.75 221.25 L252.92 221.35 L253.09 221.46 L253.26 221.56 L253.44 221.66 L253.61 221.76 L253.79 221.85 L253.97 221.94 L254.15 222.03 L254.33 222.12 L254.51 222.20 L254.69 222.28 L254.87 222.36 L255.06 222.44 L255.24 222.52 L255.43 222.59 L255.62 222.66 L255.80 222.73 L255.99 222.80 L256.18 222.86 L256.37 222.93 L256.56 222.99 L256.75 223.05 L256.94 223.11 L257.13 223.17 L257.28 223.21 M259.81 223.81 L260.00 223.84 L260.20 223.88 L260.40 223.92 L260.59 223.95 L260.79 223.99 L260.99 224.02 L261.19 224.05 L261.38 224.08 L261.58 224.11 L261.78 224.14 L261.98 224.17 L262.17 224.20 L262.37 224.23 L262.57 224.26 L262.77 224.28 L262.97 224.31 L263.17 224.33 L263.36 224.36 L263.56 224.38 L263.76 224.41 L263.96 224.43 L264.16 224.45 L264.36 224.48 L264.56 224.50 L264.75 224.52 L264.90 224.53 M267.49 224.76 L267.69 224.78 L267.89 224.79 L268.09 224.81 L268.29 224.82 L268.49 224.84 L268.69 224.85 L268.89 224.86 L269.09 224.88 L269.29 224.89 L269.49 224.90 L269.69 224.92 L269.89 224.93 L270.09 224.94 L270.29 224.95 L270.49 224.96 L270.69 224.97 L270.89 224.99 L271.09 225.00 L271.29 225.01 L271.49 225.02 L271.69 225.03 L271.88 225.04 L272.08 225.05 L272.28 225.06 L272.48 225.07 L272.63 225.07 M275.18 225.18 L275.38 225.19 L275.58 225.20 L275.78 225.20 L275.98 225.21 L276.18 225.22 L276.38 225.23 L276.58 225.23 L276.78 225.24 L276.98 225.25 L277.18 225.25 L277.38 225.26 L277.58 225.26 L277.78 225.27 L277.98 225.28 L278.18 225.28 L278.38 225.29 L278.58 225.29 L278.78 225.30 L278.98 225.31 L279.18 225.31 L279.38 225.32 L279.58 225.32 L279.78 225.33 L279.98 225.33 L280.18 225.34 L280.33 225.34 M282.88 225.40 L283.08 225.41 L283.28 225.41 L283.48 225.41 L283.68 225.42 L283.88 225.42 L284.08 225.43 L284.28 225.43 L284.48 225.43 L284.68 225.44 L284.88 225.44 L285.08 225.44 L285.28 225.45 L285.48 225.45 L285.68 225.46 L285.88 225.46 L286.08 225.46 L286.28 225.47 L286.48 225.47 L286.68 225.47 L286.88 225.48 L287.08 225.48 L287.28 225.48 L287.48 225.49 L287.68 225.49 L287.88 225.49 L288.03 225.49 M290.58 225.53 L290.78 225.53 L290.98 225.53 L291.18 225.54 L291.38 225.54 L291.58 225.54 L291.78 225.54 L291.98 225.55 L292.18 225.55 L292.38 225.55 L292.58 225.55 L292.78 225.56 L292.98 225.56 L293.18 225.56 L293.38 225.56 L293.58 225.57 L293.78 225.57 L293.98 225.57 L294.18 225.57 L294.38 225.57 L294.58 225.58 L294.78 225.58 L294.98 225.58 L295.18 225.58 L295.38 225.58 L295.58 225.59 L295.73 225.59 M298.28 225.61 L298.48 225.61 L298.68 225.61 L298.88 225.62 L299.08 225.62 L299.28 225.62 L299.48 225.62 L299.68 225.62 L299.88 225.62 L300.08 225.63 L300.28 225.63 L300.48 225.63 L300.68 225.63 L300.88 225.63 L301.08 225.63 L301.28 225.64 L301.48 225.64 L301.68 225.64 L301.88 225.64 L302.08 225.64 L302.28 225.64 L302.48 225.64 L302.68 225.65 L302.88 225.65 L303.08 225.65 L303.28 225.65 L303.43 225.65 M305.98 225.67 L306.18 225.67 L306.38 225.67 L306.58 225.67 L306.78 225.67 L306.98 225.67 L307.18 225.67 L307.38 225.67 L307.58 225.68 L307.78 225.68 L307.98 225.68 L308.18 225.68 L308.38 225.68 L308.58 225.68 L308.78 225.68 L308.98 225.68 L309.18 225.68 L309.38 225.69 L309.58 225.69 L309.78 225.69 L309.98 225.69 L310.18 225.69 L310.38 225.69 L310.58 225.69 L310.78 225.69 L310.98 225.69 L311.13 225.69 M313.68 225.71 L313.88 225.71 L314.08 225.71 L314.28 225.71 L314.48 225.71 L314.68 225.71 L314.88 225.71 L315.08 225.71 L315.28 225.71 L315.48 225.71 L315.68 225.71 L315.88 225.71 L316.08 225.72 L316.28 225.72 L316.48 225.72 L316.68 225.72 L316.88 225.72 L317.08 225.72 L317.28 225.72 L317.48 225.72 L317.68 225.72 L317.88 225.72 L318.08 225.72 L318.28 225.72 L318.48 225.72 L318.68 225.73 L318.83 225.73 M321.38 225.73 L321.58 225.73 L321.78 225.74 L321.98 225.74 L322.18 225.74 L322.38 225.74 L322.58 225.74 L322.78 225.74 L322.98 225.74 L323.18 225.74 L323.38 225.74 L323.58 225.74 L323.78 225.74 L323.98 225.74 L324.18 225.74 L324.38 225.74 L324.58 225.74 L324.78 225.74 L324.98 225.75 L325.18 225.75 L325.38 225.75 L325.58 225.75 L325.78 225.75 L325.98 225.75 L326.18 225.75 L326.38 225.75 L326.53 225.75 M329.08 225.76 L329.28 225.76 L329.48 225.76 L329.68 225.76 L329.88 225.76 L330.08 225.76 L330.28 225.76 L330.48 225.76 L330.68 225.76 L330.88 225.76 L331.08 225.76 L331.28 225.76 L331.48 225.76 L331.68 225.76 L331.88 225.76 L332.08 225.76 L332.28 225.76 L332.48 225.76 L332.68 225.76 L332.88 225.77 L333.08 225.77 L333.28 225.77 L333.48 225.77 L333.68 225.77 L333.88 225.77 L334.08 225.77 L334.23 225.77" stroke="#00f" stroke-width="1.7" fill="none"/>
<path d="M66.64 206.82 L66.81 206.82 L66.98 206.82 L67.15 206.82 L67.32 206.83 L67.39 206.83 L67.49 206.83 L67.66 206.83 L67.83 206.83 L68.00 206.83 L68.17 206.83 L68.34 206.84 L68.51 206.84 L68.68 206.84 L68.85 206.84 L69.02 206.84 L69.19 206.84 L69.37 206.85 L69.54 206.85 L69.71 206.85 L69.88 206.85 L70.05 206.85 L70.22 206.86 L70.39 206.86 L70.56 206.86 L70.73 206.86 L70.90 206.86 L71.07 206.86 L71.24 206.87 L71.41 206.87 L71.58 206.87 L71.75 206.87 L71.92 206.87 L72.10 206.88 L72.27 206.88 L72.44 206.88 L72.61 206.88 L72.78 206.88 L72.95 206.89 L73.12 206.89 L73.29 206.89 L73.46 206.89 L73.63 206.89 L73.80 206.90 L73.97 206.90 L74.14 206.90 L74.31 206.90 L74.48 206.90 L74.65 206.91 L74.83 206.91 L75.00 206.91 L75.17 206.91 L75.34 206.91 L75.51 206.92 L75.68 206.92 L75.85 206.92 L76.02 206.92 L76.19 206.92 L76.36 206.93 L76.53 206.93 L76.70 206.93 L76.87 206.93 L77.04 206.94 L77.21 206.94 L77.38 206.94 L77.55 206.94 L77.73 206.94 L77.90 206.95 L78.07 206.95 L78.24 206.95 L78.41 206.95 L78.58 206.96 L78.75 206.96 L78.92 206.96 L79.09 206.96 L79.26 206.97 L79.43 206.97 L79.60 206.97 L79.77 206.97 L79.94 206.98 L80.11 206.98 L80.28 206.98 L80.46 206.98 L80.63 206.99 L80.80 206.99 L80.97 206.99 L81.14 206.99 L81.31 207.00 L81.48 207.00 L81.65 207.00 L81.82 207.00 L81.99 207.01 L82.16 207.01 L82.33 207.01 L82.50 207.01 L82.67 207.02 L82.84 207.02 L83.01 207.02 L83.19 207.02 L83.36 207.03 L83.53 207.03 L83.70 207.03 L83.87 207.03 L84.04 207.04 L84.21 207.04 L84.38 207.04 L84.55 207.05 L84.72 207.05 L84.89 207.05 L85.06 207.05 L85.23 207.06 L85.40 207.06 L85.57 207.06 L85.74 207.06 L85.92 207.07 L86.09 207.07 L86.26 207.07 L86.43 207.08 L86.60 207.08 L86.77 207.08 L86.94 207.08 L87.11 207.09 L87.28 207.09 L87.45 207.09 L87.62 207.10 L87.79 207.10 L87.96 207.10 L88.13 207.11 L88.30 207.11 L88.47 207.11 L88.65 207.11 L88.82 207.12 L88.99 207.12 L89.16 207.12 L89.33 207.13 L89.50 207.13 L89.67 207.13 L89.84 207.14 L90.01 207.14 L90.18 207.14 L90.35 207.14 L90.52 207.15 L90.69 207.15 L90.86 207.15 L91.03 207.16 L91.20 207.16 L91.37 207.16 L91.55 207.17 L91.72 207.17 L91.89 207.17 L92.06 207.18 L92.23 207.18 L92.40 207.18 L92.57 207.19 L92.74 207.19 L92.91 207.19 L93.08 207.20 L93.25 207.20 L93.42 207.20 L93.59 207.21 L93.76 207.21 L93.93 207.21 L94.10 207.22 L94.28 207.22 L94.45 207.22 L94.62 207.23 L94.79 207.23 L94.96 207.23 L95.13 207.24 L95.30 207.24 L95.47 207.24 L95.64 207.25 L95.81 207.25 L95.98 207.25 L96.15 207.26 L96.32 207.26 L96.49 207.26 L96.66 207.27 L96.83 207.27 L97.01 207.27 L97.18 207.28 L97.35 207.28 L97.52 207.29 L97.69 207.29 L97.86 207.29 L98.03 207.30 L98.20 207.30 L98.37 207.30 L98.54 207.31 L98.71 207.31 L98.88 207.31 L99.05 207.32 L99.22 207.32 L99.39 207.33 L99.56 207.33 L99.74 207.33 L99.91 207.34 L100.08 207.34 L100.25 207.34 L100.42 207.35 L100.59 207.35 L100.76 207.36 L100.93 207.36 L101.10 207.36 L101.27 207.37 L101.44 207.37 L101.61 207.37 L101.78 207.38 L101.95 207.38 L102.12 207.39 L102.29 207.39 L102.47 207.39 L102.64 207.40 L102.81 207.40 L102.98 207.41 L103.15 207.41 L103.32 207.41 L103.49 207.42 L103.66 207.42 L103.83 207.43 L104.00 207.43 L104.17 207.43 L104.34 207.44 L104.51 207.44 L104.68 207.45 L104.85 207.45 L105.02 207.45 L105.19 207.46 L105.37 207.46 L105.54 207.47 L105.71 207.47 L105.88 207.47 L106.05 207.48 L106.22 207.48 L106.39 207.49 L106.56 207.49 L106.73 207.50 L106.90 207.50 L107.07 207.50 L107.24 207.51 L107.41 207.51 L107.58 207.52 L107.75 207.52 L107.92 207.52 L108.10 207.53 L108.27 207.53 L108.44 207.54 L108.61 207.54 L108.78 207.55 L108.95 207.55 L109.12 207.56 L109.29 207.56 L109.46 207.56 L109.63 207.57 L109.80 207.57 L109.97 207.58 L110.14 207.58 L110.31 207.59 L110.48 207.59 L110.65 207.59 L110.83 207.60 L111.00 207.60 L111.17 207.61 L111.34 207.61 L111.51 207.62 L111.68 207.62 L111.85 207.63 L112.02 207.63 L112.19 207.64 L112.36 207.64 L112.53 207.64 L112.70 207.65 L112.87 207.65 L113.04 207.66 L113.21 207.66 L113.38 207.67 L113.56 207.67 L113.73 207.68 L113.90 207.68 L114.07 207.69 L114.24 207.69 L114.41 207.70 L114.58 207.70 L114.75 207.70 L114.92 207.71 L115.09 207.71 L115.26 207.72 L115.43 207.72 L115.60 207.73 L115.77 207.73 L115.94 207.74 L116.11 207.74 L116.29 207.75 L116.46 207.75 L116.63 207.76 L116.80 207.76 L116.97 207.77 L117.14 207.77 L117.31 207.78 L117.48 207.78 L117.65 207.79 L117.65 207.79 L118.65 207.82 L119.66 207.85 L120.66 207.87 L121.66 207.91 L122.66 207.94 L123.67 207.97 L124.67 208.00 L125.67 208.03 L126.67 208.06 L127.68 208.09 L128.68 208.13 L129.68 208.16 L130.68 208.19 L131.69 208.23 L132.69 208.26 L133.69 208.30 L134.69 208.33 L135.70 208.37 L136.70 208.40 L137.70 208.44 L138.70 208.48 L139.71 208.52 L140.71 208.55 L141.71 208.59 L142.71 208.63 L143.72 208.67 L144.72 208.71 L145.72 208.75 L146.72 208.79 L147.73 208.83 L148.73 208.87 L149.73 208.91 L150.73 208.95 L151.74 208.99 L152.74 209.03 L153.74 209.08 L154.74 209.12 L155.75 209.16 L156.75 209.21 L157.75 209.25 L158.75 209.30 L159.76 209.34 L160.76 209.39 L161.76 209.43 L162.76 209.48 L163.77 209.52 L164.77 209.57 L165.77 209.62 L166.77 209.67 L167.78 209.71 L168.78 209.76 L169.78 209.81 L170.78 209.86 L171.79 209.91 L172.79 209.96 L173.79 210.01 L174.79 210.06 L175.80 210.11 L176.80 210.16 L177.80 210.22 L178.80 210.27 L179.81 210.32 L180.81 210.37 L181.81 210.43 L182.81 210.48 L183.82 210.53 L184.82 210.59 L185.82 210.64 L186.82 210.70 L187.83 210.76 L188.83 210.81 L189.83 210.87 L190.83 210.93 L191.84 210.98 L192.84 211.04 L193.84 211.10 L194.84 211.16 L195.85 211.22 L196.85 211.28 L197.85 211.33 L198.85 211.39 L199.86 211.46 L200.86 211.52 L201.86 211.58 L202.86 211.64 L203.87 211.70 L204.87 211.76 L205.87 211.83 L206.87 211.89 L207.88 211.95 L208.88 212.02 L209.88 212.08 L210.88 212.15 L211.89 212.21 L212.89 212.28 L213.89 212.34 L214.89 212.41 L215.90 212.48 L216.90 212.54 L216.90 212.54 L216.95 212.55 L217.01 212.55 L217.06 212.55 L217.12 212.56 L217.17 212.56 L217.23 212.56 L217.28 212.57 L217.34 212.57 L217.39 212.58 L217.45 212.58 L217.50 212.58 L217.56 212.59 L217.61 212.59 L217.67 212.59 L217.72 212.60 L217.77 212.60 L217.83 212.60 L217.88 212.61 L217.94 212.61 L217.99 212.62 L218.05 212.62 L218.10 212.62 L218.16 212.63 L218.21 212.63 L218.27 212.63 L218.32 212.64 L218.38 212.64 L218.43 212.65 L218.49 212.65 L218.54 212.65 L218.59 212.66 L218.65 212.66 L218.70 212.66 L218.76 212.67 L218.81 212.67 L218.87 212.67 L218.92 212.68 L218.98 212.68 L219.03 212.69 L219.09 212.69 L219.14 212.69 L219.20 212.70 L219.25 212.70 L219.30 212.70 L219.36 212.71 L219.41 212.71 L219.47 212.72 L219.52 212.72 L219.58 212.72 L219.63 212.73 L219.69 212.73 L219.74 212.73 L219.80 212.74 L219.85 212.74 L219.91 212.75 L219.96 212.75 L220.02 212.75 L220.07 212.76 L220.12 212.76 L220.18 212.76 L220.23 212.77 L220.29 212.77 L220.34 212.78 L220.40 212.78 L220.45 212.78 L220.51 212.79 L220.56 212.79 L220.62 212.79 L220.67 212.80 L220.73 212.80 L220.78 212.81 L220.84 212.81 L220.89 212.81 L220.94 212.82 L221.00 212.82 L221.05 212.82 L221.11 212.83 L221.16 212.83 L221.22 212.84 L221.27 212.84 L221.33 212.84 L221.38 212.85 L221.44 212.85 L221.49 212.85 L221.55 212.86 L221.60 212.86 L221.66 212.87 L221.71 212.87 L221.76 212.87 L221.82 212.88 L221.87 212.88 L221.93 212.88 L221.98 212.89 L222.04 212.89 L222.09 212.90 L222.15 212.90 L222.20 212.90 L222.26 212.91 L222.31 212.91 L222.37 212.91 L222.42 212.92 L222.47 212.92 L222.53 212.93 L222.58 212.93 L222.64 212.93 L222.69 212.94 L222.75 212.94 L222.80 212.94 L222.86 212.95 L222.91 212.95 L222.97 212.96 L223.02 212.96 L223.08 212.96 L223.13 212.97 L223.19 212.97 L223.24 212.97 L223.29 212.98 L223.35 212.98 L223.40 212.99 L223.46 212.99 L223.51 212.99 L223.57 213.00 L223.62 213.00 L223.68 213.01 L223.73 213.01 L223.79 213.01 L223.84 213.02 L223.90 213.02 L223.95 213.02 L224.01 213.03 L224.06 213.03 L224.11 213.04 L224.17 213.04 L224.22 213.04 L224.28 213.05 L224.33 213.05 L224.39 213.05 L224.44 213.06 L224.50 213.06 L224.55 213.07 L224.61 213.07 L224.66 213.07 L224.72 213.08 L224.77 213.08 L224.83 213.09 L224.88 213.09 L224.93 213.09 L224.99 213.10 L225.04 213.10 L225.10 213.10 L225.15 213.11 L225.21 213.11 L225.26 213.12 L225.32 213.12 L225.37 213.12 L225.43 213.13 L225.48 213.13 L225.54 213.14 L225.59 213.14 L225.64 213.14 L225.70 213.15 L225.75 213.15 L225.81 213.15 L225.86 213.16 L225.92 213.16 L225.97 213.17 L226.03 213.17 L226.08 213.17 L226.14 213.18 L226.19 213.18 L226.25 213.19 L226.30 213.19 L226.36 213.19 L226.41 213.20 L226.46 213.20 L226.52 213.20 L226.57 213.21 L226.63 213.21 L226.68 213.22 L226.74 213.22 L226.79 213.22 L226.85 213.23 L226.90 213.23 L226.96 213.24 L227.01 213.24 L227.07 213.24 L227.12 213.25 L227.18 213.25 L227.23 213.26 L227.28 213.26 L227.34 213.26 L227.39 213.27 L227.45 213.27 L227.50 213.27 L227.56 213.28 L227.61 213.28 L227.67 213.29 L227.72 213.29 L227.78 213.29 L227.83 213.30 L227.89 213.30 L227.94 213.31 L228.00 213.31 L228.05 213.31 L228.10 213.32 L228.16 213.32 L228.21 213.33 L228.27 213.33 L228.32 213.33 L228.38 213.34 L228.43 213.34 L228.49 213.34 L228.54 213.35 L228.60 213.35 L228.65 213.36 L228.71 213.36 L228.76 213.36 L228.81 213.37 L228.87 213.37 L228.92 213.38 L228.98 213.38 L229.03 213.38 L229.09 213.39 L229.14 213.39 L229.20 213.40 L229.25 213.40 L229.31 213.40 L229.36 213.41 L229.42 213.41 L229.47 213.42 L229.53 213.42 L229.58 213.42 L229.63 213.43 L229.69 213.43 L229.74 213.44 L229.80 213.44 L229.85 213.44 L229.91 213.45 L229.96 213.45 L230.02 213.45 L230.07 213.46 L230.13 213.46 L230.18 213.47 L230.24 213.47 L230.29 213.47 L230.35 213.48 L230.40 213.48 L230.45 213.49 L230.51 213.49 L230.56 213.49 L230.62 213.50 L230.67 213.50 L230.73 213.51 L230.78 213.51 L230.84 213.51 L230.89 213.52 L230.95 213.52 L231.00 213.53 L231.06 213.53 L231.11 213.53 L231.17 213.54 L231.22 213.54 L231.27 213.55 L231.33 213.55 L231.38 213.55 L231.44 213.56 L231.49 213.56 L231.55 213.57 L231.60 213.57 L231.66 213.57 L231.71 213.58 L231.77 213.58 L231.82 213.59 L231.88 213.59 L231.93 213.59 L231.99 213.60 L232.04 213.60 L232.09 213.61 L232.15 213.61 L232.20 213.61 L232.26 213.62 L232.31 213.62 L232.37 213.63 L232.42 213.63 L232.48 213.63 L232.53 213.64 L232.59 213.64 L232.64 213.65 L232.70 213.65 L232.75 213.65 L232.80 213.66 L232.86 213.66 L232.91 213.67 L232.97 213.67 L233.02 213.67 L233.08 213.68 L233.13 213.68 L233.19 213.69 L233.24 213.69 L233.30 213.69 L233.35 213.70 L233.41 213.70 L233.46 213.71 L233.52 213.71 L233.57 213.71 L233.62 213.72 L233.68 213.72 L233.73 213.73 L233.79 213.73 L233.84 213.73 L233.90 213.74 L233.95 213.74 L234.01 213.75 L234.06 213.75 L234.12 213.75 L234.17 213.76 L234.23 213.76 L234.28 213.77 L234.34 213.77 L234.39 213.77 L234.44 213.78 L234.50 213.78 L234.55 213.79 L234.61 213.79 L234.66 213.79 L234.72 213.80 L234.77 213.80 L234.83 213.81 L234.88 213.81 L234.94 213.81 L234.99 213.82 L235.05 213.82 L235.10 213.83 L235.16 213.83 L235.21 213.83 L235.26 213.84 L235.32 213.84 L235.37 213.85 L235.43 213.85 L235.48 213.85 L235.54 213.86 L235.59 213.86 L235.65 213.87 L235.70 213.87 L235.76 213.87 L235.81 213.88 L235.87 213.88 L235.92 213.89 L235.97 213.89 L236.03 213.90 L236.08 213.90 L236.14 213.90 L236.19 213.91 L236.25 213.91 L236.30 213.92 L236.36 213.92 L236.41 213.92 L236.47 213.93 L236.52 213.93 L236.58 213.94 L236.63 213.94 L236.69 213.94 L236.74 213.95 L236.79 213.95 L236.85 213.96 L236.90 213.96 L236.96 213.96 L237.01 213.97 L237.02 213.97 L237.07 213.97 L237.12 213.98 L237.18 213.98 L237.23 213.98 L237.29 213.99 L237.34 213.99 L237.40 214.00 L237.45 214.00 L237.51 214.01 L237.56 214.01 L237.61 214.01 L237.67 214.02 L237.72 214.02 L237.78 214.03 L237.83 214.03 L237.89 214.03 L237.94 214.04 L238.00 214.04 L238.05 214.05 L238.11 214.05 L238.16 214.05 L238.22 214.06 L238.27 214.06 L238.33 214.07 L238.38 214.07 L238.43 214.08 L238.49 214.08 L238.50 214.08 L238.54 214.08 L238.60 214.09 L238.65 214.09 L238.71 214.10 L238.76 214.10 L238.82 214.10 L238.87 214.11 L238.93 214.11 L238.98 214.12 L239.04 214.12 L239.09 214.12 L239.14 214.13 L239.20 214.13 L239.25 214.14 L239.31 214.14 L239.36 214.15 L239.42 214.15 L239.47 214.15 L239.53 214.16 L239.58 214.16 L239.64 214.17 L239.69 214.17 L239.75 214.17 L239.80 214.18 L239.86 214.18 L239.91 214.19 L239.96 214.19 L239.98 214.19 L240.02 214.20 L240.07 214.20 L240.13 214.20 L240.18 214.21 L240.24 214.21 L240.29 214.22 L240.35 214.22 L240.40 214.22 L240.46 214.23 L240.51 214.23 L240.57 214.24 L240.62 214.24 L240.68 214.25 L240.73 214.25 L240.78 214.25 L240.84 214.26 L240.89 214.26 L240.95 214.27 L241.00 214.27 L241.06 214.27 L241.11 214.28 L241.17 214.28 L241.22 214.29 L241.28 214.29 L241.33 214.30 L241.39 214.30 L241.44 214.30 L241.50 214.31 L241.55 214.31 L241.60 214.32 L241.66 214.32 L241.71 214.32 L241.77 214.33 L241.82 214.33 L241.88 214.34 L241.93 214.34 L241.99 214.35 L242.04 214.35 L242.10 214.35 L242.15 214.36 L242.21 214.36 L242.26 214.37 L242.31 214.37 L242.37 214.37 L242.42 214.38 L242.48 214.38 L242.53 214.39 L242.59 214.39 L242.64 214.40 L242.70 214.40 L242.75 214.40 L242.81 214.41 L242.86 214.41 L242.92 214.42 L242.97 214.42 L243.03 214.43 L243.08 214.43 L243.13 214.43 L243.19 214.44 L243.24 214.44 L243.30 214.45 L243.35 214.45 L243.41 214.45 L243.46 214.46 L243.52 214.46 L243.57 214.47 L243.63 214.47 L243.68 214.48 L243.74 214.48 L243.79 214.48 L243.85 214.49 L243.90 214.49 L243.95 214.50 L244.01 214.50 L244.06 214.51 L244.12 214.51 L244.17 214.51 L244.23 214.52 L244.28 214.52 L244.34 214.53 L244.39 214.53 L244.45 214.54 L244.50 214.54 L244.56 214.54 L244.61 214.55 L244.67 214.55 L244.72 214.56 L244.77 214.56 L244.83 214.56 L244.88 214.57 L244.94 214.57 L244.99 214.58 L245.05 214.58 L245.10 214.59 L245.16 214.59 L245.21 214.59 L245.27 214.60 L245.32 214.60 L245.38 214.61 L245.43 214.61 L245.48 214.62 L245.54 214.62 L245.59 214.62 L245.65 214.63 L245.70 214.63 L245.76 214.64 L245.81 214.64 L245.87 214.65 L245.92 214.65 L245.98 214.65 L246.03 214.66 L246.09 214.66 L246.14 214.67 L246.20 214.67 L246.25 214.68 L246.30 214.68 L246.36 214.68 L246.41 214.69 L246.47 214.69 L246.52 214.70 L246.58 214.70 L246.63 214.71 L246.69 214.71 L246.74 214.71 L246.80 214.72 L246.85 214.72 L246.91 214.73 L246.96 214.73 L247.02 214.74 L247.07 214.74 L247.12 214.74 L247.18 214.75 L247.23 214.75 L247.29 214.76 L247.34 214.76 L247.40 214.77 L247.45 214.77 L247.51 214.77 L247.56 214.78 L247.62 214.78 L247.67 214.79 L247.73 214.79 L247.78 214.80 L247.84 214.80 L247.89 214.80 L247.94 214.81 L248.00 214.81 L248.05 214.82 L248.11 214.82 L248.16 214.83 L248.22 214.83 L248.27 214.84 L248.33 214.84 L248.38 214.84 L248.44 214.85 L248.49 214.85 L248.55 214.86 L248.60 214.86 L248.66 214.87 L248.71 214.87 L248.76 214.87 L248.82 214.88 L248.87 214.88 L248.93 214.89 L248.98 214.89 L249.04 214.90 L249.09 214.90 L249.15 214.90 L249.20 214.91 L249.26 214.91 L249.31 214.92 L249.37 214.92 L249.42 214.93 L249.47 214.93 L249.53 214.94 L249.58 214.94 L249.64 214.94 L249.69 214.95 L249.75 214.95 L249.80 214.96 L249.86 214.96 L249.91 214.97 L249.97 214.97 L250.02 214.97 L250.08 214.98 L250.13 214.98 L250.19 214.99 L250.24 214.99 L250.29 215.00 L250.35 215.00 L250.40 215.00 L250.46 215.01 L250.51 215.01 L250.57 215.02 L250.62 215.02 L250.68 215.03 L250.73 215.03 L250.79 215.04 L250.84 215.04 L250.90 215.04 L250.95 215.05 L251.01 215.05 L251.06 215.06 L251.11 215.06 L251.17 215.07 L251.22 215.07 L251.28 215.07 L251.33 215.08 L251.39 215.08 L251.44 215.09 L251.50 215.09 L251.55 215.10 L251.61 215.10 L251.66 215.11 L251.72 215.11 L251.77 215.11 L251.83 215.12 L251.88 215.12 L251.93 215.13 L251.99 215.13 L252.04 215.14 L252.10 215.14 L252.15 215.15 L252.21 215.15 L252.26 215.15 L252.32 215.16 L252.37 215.16 L252.43 215.17 L252.48 215.17 L252.54 215.18 L252.59 215.18 L252.64 215.18 L252.70 215.19 L252.75 215.19 L252.81 215.20 L252.86 215.20 L252.92 215.21 L252.97 215.21 L253.03 215.22 L253.08 215.22 L253.14 215.22 L253.19 215.23 L253.25 215.23 L253.30 215.24 L253.36 215.24 L253.41 215.25 L253.46 215.25 L253.52 215.26 L253.57 215.26 L253.63 215.26 L253.68 215.27 L253.74 215.27 L253.79 215.28 L253.85 215.28 L253.90 215.29 L253.96 215.29 L254.01 215.30 L254.07 215.30 L254.12 215.30 L254.18 215.31 L254.23 215.31 L254.28 215.32 L254.34 215.32 L254.39 215.33 L254.45 215.33 L254.50 215.34 L254.56 215.34 L254.61 215.34 L254.67 215.35 L254.72 215.35 L254.78 215.36 L254.83 215.36 L254.89 215.37 L254.94 215.37 L255.00 215.38 L255.05 215.38 L255.10 215.38 L255.16 215.39 L255.21 215.39 L255.27 215.40 L255.32 215.40 L255.38 215.41 L255.43 215.41 L255.49 215.42 L255.54 215.42 L255.60 215.43 L255.65 215.43 L255.71 215.43 L255.76 215.44 L255.81 215.44 L255.87 215.45 L255.92 215.45 L255.98 215.46 L256.03 215.46 L256.09 215.47 L256.14 215.47 L256.20 215.47 L256.25 215.48 L256.31 215.48 L256.36 215.49 L256.42 215.49 L256.47 215.50 L256.53 215.50 L256.58 215.51 L256.63 215.51 L256.69 215.52 L256.74 215.52 L256.80 215.52 L256.85 215.53 L256.91 215.53 L256.96 215.54 L257.02 215.54 L257.07 215.55 L257.13 215.55 L257.18 215.56 L257.24 215.56 L257.29 215.56 L257.35 215.57 L257.40 215.57 L257.45 215.58 L257.51 215.58 L257.56 215.59 L257.62 215.59 L257.67 215.60 L257.73 215.60 L257.78 215.61 L257.84 215.61 L257.89 215.61 L257.95 215.62 L258.00 215.62 L258.06 215.63 L258.11 215.63 L258.17 215.64 L258.22 215.64 L258.27 215.65 L258.33 215.65 L258.38 215.66 L258.44 215.66 L258.49 215.66 L258.55 215.67 L258.60 215.67 L258.66 215.68 L258.71 215.68 L258.77 215.69 L258.82 215.69 L258.88 215.70 L258.93 215.70 L258.98 215.71 L259.04 215.71 L259.09 215.71 L259.15 215.72 L259.20 215.72 L259.26 215.73 L259.31 215.73 L259.37 215.74 L259.42 215.74 L259.48 215.75 L259.53 215.75 L259.59 215.76 L259.64 215.76 L259.70 215.76 L259.75 215.77 L259.80 215.77 L259.86 215.78 L259.91 215.78 L259.97 215.79 L260.02 215.79 L260.08 215.80 L260.13 215.80 L260.19 215.81 L260.24 215.81 L260.30 215.81 L260.35 215.82 L260.41 215.82 L260.46 215.83 L260.52 215.83 L260.57 215.84 L260.57 215.84 L261.33 215.90 L262.09 215.97 L262.86 216.03 L263.62 216.10 L264.38 216.16 L265.14 216.23 L265.90 216.29 L266.67 216.36 L267.43 216.42 L268.19 216.49 L268.95 216.55 L269.71 216.62 L270.47 216.69 L271.24 216.75 L272.00 216.82 L272.76 216.89 L273.52 216.96 L274.28 217.02 L275.05 217.09 L275.81 217.16 L276.57 217.23 L277.33 217.30 L278.09 217.37 L278.86 217.44 L279.62 217.51 L280.38 217.58 L281.14 217.64 L281.90 217.71 L282.67 217.79 L283.43 217.86 L284.19 217.93 L284.95 218.00 L285.71 218.07 L286.48 218.14 L287.24 218.21 L288.00 218.28 L288.76 218.36 L289.52 218.43 L290.28 218.50 L291.05 218.57 L291.81 218.65 L292.57 218.72 L293.33 218.79 L294.09 218.87 L294.86 218.94 L295.62 219.01 L296.38 219.09 L297.14 219.16 L297.90 219.24 L298.67 219.31 L299.43 219.39 L300.19 219.46 L300.95 219.54 L301.71 219.62 L302.48 219.69 L303.24 219.77 L304.00 219.84 L304.76 219.92 L305.52 220.00 L306.29 220.08 L307.05 220.15 L307.81 220.23 L308.57 220.31 L309.33 220.39 L310.09 220.46 L310.86 220.54 L311.62 220.62 L312.38 220.70 L313.14 220.78 L313.90 220.86 L314.67 220.94 L315.43 221.02 L316.19 221.10 L316.95 221.18 L317.71 221.26 L318.48 221.34 L319.24 221.42 L320.00 221.50 L320.76 221.59 L321.52 221.67 L322.29 221.75 L323.05 221.83 L323.81 221.91 L324.57 222.00 L325.33 222.08 L326.10 222.16 L326.86 222.25 L327.62 222.33 L328.38 222.41 L329.14 222.50 L329.90 222.58 L330.67 222.66 L331.43 222.75 L332.19 222.83 L332.95 222.92 L333.71 223.00 L334.48 223.09 L335.24 223.18 L336.00 223.26" stroke="#f0f" stroke-width="1.5" stroke-dasharray="2.6 3.2 6.7 3.2" fill="none"/>
<g><text x="38.00" y="199.53" font-size="12.00" letter-spacing="0.50" >0.5</text><text x="38.00" y="168.85" font-size="12.00" letter-spacing="0.50" >1.0</text><text x="38.00" y="138.18" font-size="12.00" letter-spacing="0.50" >1.5</text><text x="38.00" y="107.50" font-size="12.00" letter-spacing="0.50" >2.0</text><text x="38.00" y="76.83" font-size="12.00" letter-spacing="0.50" >2.5</text><text x="90.95" y="242.70" font-size="12.00" letter-spacing="0.30" >20</text><text x="130.65" y="242.70" font-size="12.00" letter-spacing="0.30" >40</text><text x="170.35" y="242.70" font-size="12.00" letter-spacing="0.30" >60</text><text x="210.05" y="242.70" font-size="12.00" letter-spacing="0.30" >80</text><text x="246.60" y="242.70" font-size="12.00" letter-spacing="0.30" >100</text><text x="286.30" y="242.70" font-size="12.00" letter-spacing="0.30" >120</text><text x="326.00" y="242.70" font-size="12.00" letter-spacing="0.30" >140</text></g>
<g><text x="11.00" y="15.70" font-size="12.00" letter-spacing="1.00" >dΓ</text><text x="0.80" y="39.50" font-size="12.00" letter-spacing="1.00" >dM</text><text x="20.10" y="33.90" font-size="10.00" letter-spacing="0.00" >2</text><text x="20.80" y="43.20" font-size="10.50" letter-spacing="0.25" >inv</text><text x="39.30" y="25.70" font-size="12.00" letter-spacing="0.00" >(</text><text x="43.00" y="25.70" font-size="12.00" letter-spacing="0.30" >10</text><text x="63.50" y="20.80" font-size="10.80" letter-spacing="0.00" >8</text><text x="71.00" y="25.70" font-size="12.00" letter-spacing="0.00" >G</text><text x="81.70" y="25.70" font-size="12.00" letter-spacing="0.00" >e</text><text x="88.60" y="25.70" font-size="12.00" letter-spacing="0.00" >V</text><text x="106.30" y="20.80" font-size="10.50" letter-spacing="0.00" >1</text><text x="113.80" y="25.70" font-size="12.00" letter-spacing="0.00" >)</text><path d="M1 21.2 H35.5 M57.3 17.6 H62.3 M98.8 17.6 H105.2" stroke="#000" stroke-width="0.8"/></g>
<g><text x="351.20" y="231.10" font-size="12.50" letter-spacing="0.00" font-style="italic">M</text><text x="364.10" y="233.80" font-size="10.50" letter-spacing="0.25" >inv</text><text x="380.00" y="231.00" font-size="12.00" letter-spacing="0.00" >(</text><text x="384.80" y="231.00" font-size="12.00" letter-spacing="0.00" >G</text><text x="395.20" y="231.00" font-size="12.00" letter-spacing="0.00" >e</text><text x="402.40" y="231.00" font-size="12.00" letter-spacing="0.00" >V</text><text x="410.70" y="231.00" font-size="12.00" letter-spacing="0.00" >)</text></g>
<rect x="248.7" y="0.5" width="137.8" height="73" fill="#fff" stroke="#808080" stroke-width="1"/>
<path d="M255.7 17.3 H296.8" stroke="#f00" stroke-width="2.8" stroke-dasharray="15 13.2" fill="none"/>
<path d="M255.7 39.9 H292.1" stroke="#00f" stroke-width="1.7" stroke-dasharray="4.8 2.4 5.2 2.2 5 2.6 5.2 2.4 6.8 100" fill="none"/>
<path d="M256 63 H296.8" stroke="#f0f" stroke-width="1.5" stroke-dasharray="2.6 3.2 6.7 3.2" fill="none"/>
<g><text x="302.60" y="19.20" font-size="14.30" letter-spacing="0.00" >C</text><text x="313.50" y="11.30" font-size="10.00" letter-spacing="1.50" >(1,1+3)</text><text font-size="10" transform="translate(314.6,23.0) skewX(-14)">ϕ</text><text x="321.60" y="23.00" font-size="10.00" letter-spacing="0.00" >q</text><text x="354.20" y="19.20" font-size="15.10" letter-spacing="0.00" >=</text><text x="364.30" y="19.20" font-size="14.30" letter-spacing="0.75" >0.5</text><text x="302.60" y="44.20" font-size="14.30" letter-spacing="0.00" >C</text><text x="313.50" y="35.50" font-size="10.00" letter-spacing="1.45" >(13)</text><text x="314.60" y="47.90" font-size="10.00" letter-spacing="-0.20" >uW</text><text x="336.40" y="44.20" font-size="15.10" letter-spacing="0.00" >=</text><text x="346.50" y="44.20" font-size="14.30" letter-spacing="0.75" >0.5</text><text x="302.60" y="65.60" font-size="14.30" letter-spacing="0.00" >C</text><text x="313.50" y="57.20" font-size="10.00" letter-spacing="1.50" >(3,1+3)</text><text x="314.60" y="69.10" font-size="10.00" letter-spacing="1.00" >lequ</text><text x="354.20" y="65.60" font-size="15.10" letter-spacing="0.00" >=</text><text x="364.30" y="65.60" font-size="14.30" letter-spacing="0.00" >1</text></g>
</svg>
</body></html>
